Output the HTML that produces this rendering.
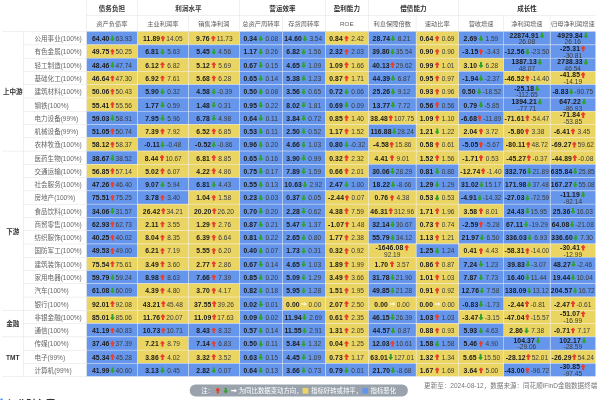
<!DOCTYPE html>
<html lang="zh-CN"><head><meta charset="utf-8"><title>行业财务指标</title>
<style>
html,body{margin:0;padding:0;background:#fff;}
body{width:600px;height:400px;overflow:hidden;position:relative;font-family:"Liberation Sans","Noto Sans CJK SC",sans-serif;}
#wrap{position:absolute;left:0;top:0;width:1356px;height:905px;transform:scale(0.4424);transform-origin:0 0;font-size:14.8px;color:#333;}
table.t{position:absolute;left:4.5px;top:0;border-collapse:collapse;table-layout:fixed;border-spacing:0;}
.t th,.t td{padding:0;margin:0;text-align:center;vertical-align:middle;white-space:nowrap;overflow:visible;box-sizing:border-box;}
.t thead th{border:1px solid #dcdcdc;border-top:none;}
.t th.corner{border-left:none;border-top:none;}
.t tr.h1 th{height:35px;font-weight:bold;color:#333;}
.t tr.h2 th{height:36px;font-weight:normal;color:#5c5c5c;font-size:14.1px;}
.t tbody td{height:30px;border:1px solid #f0f0f0;line-height:14px;}
.t td.g{padding-top:3px;font-weight:bold;color:#333;border-left:none;border-color:#dcdcdc;}
.t td.n{text-align:left;padding-left:24px;padding-top:4px;color:#666;border-color:#dcdcdc;}
.t td.bl{background:#6596ec;}
.t td.yl{background:#ebd562;}
.t td b{display:inline-block;min-width:35px;text-align:center;font-weight:bold;color:#1a1a1a;}
.t td i{display:inline-block;min-width:35px;text-align:center;font-style:normal;color:#3a3a3a;}
.ar{display:inline-block;width:10.5px;height:14px;vertical-align:-2px;margin:0 2.2px 0 1px;}
.ar.rt{width:14px;height:10px;vertical-align:0;margin:0 0.5px;}
.t td.w b,.t td.w i{min-width:0;}
.foot{position:absolute;left:0;top:866px;width:100%;height:30px;}
.pill{position:absolute;left:428.5px;top:3px;height:26.5px;line-height:28.5px;width:493px;border-radius:13px;background:#9aa3ad;color:#fff;text-align:center;white-space:nowrap;}
.pill{font-size:14.45px;}
.pill .ar{margin:0 3.5px;top:0;position:relative;}
.sq{display:inline-block;width:13px;height:13px;vertical-align:-2px;margin-right:6px;}
.sy{background:#edd55f;}.sb{background:#6495ed;}
.src{position:absolute;right:6px;top:-7.5px;line-height:26px;color:#777;white-space:nowrap;}
.next{position:absolute;left:1px;top:899.9px;font-size:22px;font-weight:bold;color:#333;line-height:30px;white-space:nowrap;}
.next .bar{display:inline-block;width:4.5px;height:24px;background:#3b8cff;vertical-align:-3px;margin-right:10px;}
.t td b,.t td i{position:relative;top:1.5px;}
.t td .ar{position:relative;top:0.8px;}
.t td.w .l1,.t td.w .l2{height:14px;line-height:14px;white-space:nowrap;}
.t td.w .l1{position:relative;top:0.5px;}
.t td.w .l2{position:relative;top:1.8px;}
.t td.w b,.t td.w i{top:0;}
.t td.w .ar{top:0.3px;margin:0 0 0 2px;}
.t td b{letter-spacing:0.3px;font-size:15.3px;}
.t thead th:last-child{border-right:none;}
.t tbody td:last-child{border-right:none;}

</style></head><body>
<div id="wrap">
<table class="t"><colgroup><col style="width:49px"><col style="width:142px"><col style="width:115px"><col style="width:115px"><col style="width:116px"><col style="width:97px"><col style="width:97px"><col style="width:97px"><col style="width:108px"><col style="width:96px"><col style="width:102px"><col style="width:105px"><col style="width:102px"></colgroup>
<thead><tr class="h1"><th colspan="2" rowspan="2" class="corner"></th><th>债务负担</th><th colspan="2">利润水平</th><th colspan="2">营运效率</th><th>盈利能力</th><th colspan="2">偿债能力</th><th colspan="3">成长性</th></tr>
<tr class="h2"><th>资产负债率</th><th>主业利润率</th><th>销售净利润</th><th>总资产周转率</th><th>存货周转率</th><th>ROE</th><th>利息保障倍数</th><th>速动比率</th><th>营收增速</th><th>净利润增速</th><th>归母净利润增速</th></tr></thead><tbody>
<tr class="gs"><td class="g" rowspan="9">上中游</td><td class="n">公用事业(100%)</td><td class="bl"><b>64.40</b><svg class="ar" viewBox="0 0 10.5 14"><path d="M5.25 14 C6.3 13 9 10.4 10.2 8.6 Q10.8 7 9.4 7 L7.55 7 L7.55 0.9 Q7.55 0 6.65 0 L3.85 0 Q2.95 0 2.95 0.9 L2.95 7 L1.1 7 Q-0.3 7 0.3 8.6 C1.5 10.4 4.2 13 5.25 14 Z" fill="#2fa32f"/></svg><i>63.93</i></td><td class="yl"><b>11.89</b><svg class="ar" viewBox="0 0 10.5 14"><path d="M5.25 0 C6.3 1 9 3.6 10.2 5.4 Q10.8 7 9.4 7 L7.55 7 L7.55 13.1 Q7.55 14 6.65 14 L3.85 14 Q2.95 14 2.95 13.1 L2.95 7 L1.1 7 Q-0.3 7 0.3 5.4 C1.5 3.6 4.2 1 5.25 0 Z" fill="#e8402c"/></svg><i>14.05</i></td><td class="yl"><b>9.76</b><svg class="ar" viewBox="0 0 10.5 14"><path d="M5.25 0 C6.3 1 9 3.6 10.2 5.4 Q10.8 7 9.4 7 L7.55 7 L7.55 13.1 Q7.55 14 6.65 14 L3.85 14 Q2.95 14 2.95 13.1 L2.95 7 L1.1 7 Q-0.3 7 0.3 5.4 C1.5 3.6 4.2 1 5.25 0 Z" fill="#e8402c"/></svg><i>11.73</i></td><td class="bl"><b>0.34</b><svg class="ar" viewBox="0 0 10.5 14"><path d="M5.25 14 C6.3 13 9 10.4 10.2 8.6 Q10.8 7 9.4 7 L7.55 7 L7.55 0.9 Q7.55 0 6.65 0 L3.85 0 Q2.95 0 2.95 0.9 L2.95 7 L1.1 7 Q-0.3 7 0.3 8.6 C1.5 10.4 4.2 13 5.25 14 Z" fill="#2fa32f"/></svg><i>0.08</i></td><td class="bl"><b>14.60</b><svg class="ar" viewBox="0 0 10.5 14"><path d="M5.25 14 C6.3 13 9 10.4 10.2 8.6 Q10.8 7 9.4 7 L7.55 7 L7.55 0.9 Q7.55 0 6.65 0 L3.85 0 Q2.95 0 2.95 0.9 L2.95 7 L1.1 7 Q-0.3 7 0.3 8.6 C1.5 10.4 4.2 13 5.25 14 Z" fill="#2fa32f"/></svg><i>3.54</i></td><td class="yl"><b>0.84</b><svg class="ar" viewBox="0 0 10.5 14"><path d="M5.25 0 C6.3 1 9 3.6 10.2 5.4 Q10.8 7 9.4 7 L7.55 7 L7.55 13.1 Q7.55 14 6.65 14 L3.85 14 Q2.95 14 2.95 13.1 L2.95 7 L1.1 7 Q-0.3 7 0.3 5.4 C1.5 3.6 4.2 1 5.25 0 Z" fill="#e8402c"/></svg><i>2.42</i></td><td class="bl"><b>28.74</b><svg class="ar" viewBox="0 0 10.5 14"><path d="M5.25 14 C6.3 13 9 10.4 10.2 8.6 Q10.8 7 9.4 7 L7.55 7 L7.55 0.9 Q7.55 0 6.65 0 L3.85 0 Q2.95 0 2.95 0.9 L2.95 7 L1.1 7 Q-0.3 7 0.3 8.6 C1.5 10.4 4.2 13 5.25 14 Z" fill="#2fa32f"/></svg><i>8.21</i></td><td class="yl"><b>0.64</b><svg class="ar" viewBox="0 0 10.5 14"><path d="M5.25 0 C6.3 1 9 3.6 10.2 5.4 Q10.8 7 9.4 7 L7.55 7 L7.55 13.1 Q7.55 14 6.65 14 L3.85 14 Q2.95 14 2.95 13.1 L2.95 7 L1.1 7 Q-0.3 7 0.3 5.4 C1.5 3.6 4.2 1 5.25 0 Z" fill="#e8402c"/></svg><i>0.69</i></td><td class="bl"><b>2.69</b><svg class="ar" viewBox="0 0 10.5 14"><path d="M5.25 14 C6.3 13 9 10.4 10.2 8.6 Q10.8 7 9.4 7 L7.55 7 L7.55 0.9 Q7.55 0 6.65 0 L3.85 0 Q2.95 0 2.95 0.9 L2.95 7 L1.1 7 Q-0.3 7 0.3 8.6 C1.5 10.4 4.2 13 5.25 14 Z" fill="#2fa32f"/></svg><i>1.59</i></td><td class="bl w"><div class="l1"><b>22874.91</b><svg class="ar" viewBox="0 0 10.5 14"><path d="M5.25 14 C6.3 13 9 10.4 10.2 8.6 Q10.8 7 9.4 7 L7.55 7 L7.55 0.9 Q7.55 0 6.65 0 L3.85 0 Q2.95 0 2.95 0.9 L2.95 7 L1.1 7 Q-0.3 7 0.3 8.6 C1.5 10.4 4.2 13 5.25 14 Z" fill="#2fa32f"/></svg></div><div class="l2"><i>26.08</i></div></td><td class="bl w"><div class="l1"><b>4929.84</b><svg class="ar" viewBox="0 0 10.5 14"><path d="M5.25 14 C6.3 13 9 10.4 10.2 8.6 Q10.8 7 9.4 7 L7.55 7 L7.55 0.9 Q7.55 0 6.65 0 L3.85 0 Q2.95 0 2.95 0.9 L2.95 7 L1.1 7 Q-0.3 7 0.3 8.6 C1.5 10.4 4.2 13 5.25 14 Z" fill="#2fa32f"/></svg></div><div class="l2"><i>26.16</i></div></td></tr>
<tr><td class="n">有色金属(100%)</td><td class="yl"><b>49.75</b><svg class="ar" viewBox="0 0 10.5 14"><path d="M5.25 0 C6.3 1 9 3.6 10.2 5.4 Q10.8 7 9.4 7 L7.55 7 L7.55 13.1 Q7.55 14 6.65 14 L3.85 14 Q2.95 14 2.95 13.1 L2.95 7 L1.1 7 Q-0.3 7 0.3 5.4 C1.5 3.6 4.2 1 5.25 0 Z" fill="#e8402c"/></svg><i>50.25</i></td><td class="bl"><b>6.81</b><svg class="ar" viewBox="0 0 10.5 14"><path d="M5.25 14 C6.3 13 9 10.4 10.2 8.6 Q10.8 7 9.4 7 L7.55 7 L7.55 0.9 Q7.55 0 6.65 0 L3.85 0 Q2.95 0 2.95 0.9 L2.95 7 L1.1 7 Q-0.3 7 0.3 8.6 C1.5 10.4 4.2 13 5.25 14 Z" fill="#2fa32f"/></svg><i>5.63</i></td><td class="bl"><b>5.45</b><svg class="ar" viewBox="0 0 10.5 14"><path d="M5.25 14 C6.3 13 9 10.4 10.2 8.6 Q10.8 7 9.4 7 L7.55 7 L7.55 0.9 Q7.55 0 6.65 0 L3.85 0 Q2.95 0 2.95 0.9 L2.95 7 L1.1 7 Q-0.3 7 0.3 8.6 C1.5 10.4 4.2 13 5.25 14 Z" fill="#2fa32f"/></svg><i>4.56</i></td><td class="bl"><b>1.17</b><svg class="ar" viewBox="0 0 10.5 14"><path d="M5.25 14 C6.3 13 9 10.4 10.2 8.6 Q10.8 7 9.4 7 L7.55 7 L7.55 0.9 Q7.55 0 6.65 0 L3.85 0 Q2.95 0 2.95 0.9 L2.95 7 L1.1 7 Q-0.3 7 0.3 8.6 C1.5 10.4 4.2 13 5.25 14 Z" fill="#2fa32f"/></svg><i>0.26</i></td><td class="bl"><b>6.82</b><svg class="ar" viewBox="0 0 10.5 14"><path d="M5.25 14 C6.3 13 9 10.4 10.2 8.6 Q10.8 7 9.4 7 L7.55 7 L7.55 0.9 Q7.55 0 6.65 0 L3.85 0 Q2.95 0 2.95 0.9 L2.95 7 L1.1 7 Q-0.3 7 0.3 8.6 C1.5 10.4 4.2 13 5.25 14 Z" fill="#2fa32f"/></svg><i>1.56</i></td><td class="bl"><b>2.32</b><svg class="ar" viewBox="0 0 10.5 14"><path d="M5.25 0 C6.3 1 9 3.6 10.2 5.4 Q10.8 7 9.4 7 L7.55 7 L7.55 13.1 Q7.55 14 6.65 14 L3.85 14 Q2.95 14 2.95 13.1 L2.95 7 L1.1 7 Q-0.3 7 0.3 5.4 C1.5 3.6 4.2 1 5.25 0 Z" fill="#e8402c"/></svg><i>2.03</i></td><td class="bl"><b>39.80</b><svg class="ar" viewBox="0 0 10.5 14"><path d="M5.25 14 C6.3 13 9 10.4 10.2 8.6 Q10.8 7 9.4 7 L7.55 7 L7.55 0.9 Q7.55 0 6.65 0 L3.85 0 Q2.95 0 2.95 0.9 L2.95 7 L1.1 7 Q-0.3 7 0.3 8.6 C1.5 10.4 4.2 13 5.25 14 Z" fill="#2fa32f"/></svg><i>35.54</i></td><td class="yl"><b>0.90</b><svg class="ar" viewBox="0 0 10.5 14"><path d="M5.25 0 C6.3 1 9 3.6 10.2 5.4 Q10.8 7 9.4 7 L7.55 7 L7.55 13.1 Q7.55 14 6.65 14 L3.85 14 Q2.95 14 2.95 13.1 L2.95 7 L1.1 7 Q-0.3 7 0.3 5.4 C1.5 3.6 4.2 1 5.25 0 Z" fill="#e8402c"/></svg><i>0.90</i></td><td class="bl"><b>-3.15</b><svg class="ar" viewBox="0 0 10.5 14"><path d="M5.25 0 C6.3 1 9 3.6 10.2 5.4 Q10.8 7 9.4 7 L7.55 7 L7.55 13.1 Q7.55 14 6.65 14 L3.85 14 Q2.95 14 2.95 13.1 L2.95 7 L1.1 7 Q-0.3 7 0.3 5.4 C1.5 3.6 4.2 1 5.25 0 Z" fill="#e8402c"/></svg><i>-3.43</i></td><td class="bl"><b>-12.56</b><svg class="ar" viewBox="0 0 10.5 14"><path d="M5.25 14 C6.3 13 9 10.4 10.2 8.6 Q10.8 7 9.4 7 L7.55 7 L7.55 0.9 Q7.55 0 6.65 0 L3.85 0 Q2.95 0 2.95 0.9 L2.95 7 L1.1 7 Q-0.3 7 0.3 8.6 C1.5 10.4 4.2 13 5.25 14 Z" fill="#2fa32f"/></svg><i>-23.50</i></td><td class="bl w"><div class="l1"><b>-25.31</b><svg class="ar" viewBox="0 0 10.5 14"><path d="M5.25 0 C6.3 1 9 3.6 10.2 5.4 Q10.8 7 9.4 7 L7.55 7 L7.55 13.1 Q7.55 14 6.65 14 L3.85 14 Q2.95 14 2.95 13.1 L2.95 7 L1.1 7 Q-0.3 7 0.3 5.4 C1.5 3.6 4.2 1 5.25 0 Z" fill="#e8402c"/></svg></div><div class="l2"><i>-30.81</i></div></td></tr>
<tr><td class="n">轻工制造(100%)</td><td class="bl"><b>48.46</b><svg class="ar" viewBox="0 0 10.5 14"><path d="M5.25 14 C6.3 13 9 10.4 10.2 8.6 Q10.8 7 9.4 7 L7.55 7 L7.55 0.9 Q7.55 0 6.65 0 L3.85 0 Q2.95 0 2.95 0.9 L2.95 7 L1.1 7 Q-0.3 7 0.3 8.6 C1.5 10.4 4.2 13 5.25 14 Z" fill="#2fa32f"/></svg><i>47.74</i></td><td class="yl"><b>6.12</b><svg class="ar" viewBox="0 0 10.5 14"><path d="M5.25 0 C6.3 1 9 3.6 10.2 5.4 Q10.8 7 9.4 7 L7.55 7 L7.55 13.1 Q7.55 14 6.65 14 L3.85 14 Q2.95 14 2.95 13.1 L2.95 7 L1.1 7 Q-0.3 7 0.3 5.4 C1.5 3.6 4.2 1 5.25 0 Z" fill="#e8402c"/></svg><i>6.82</i></td><td class="yl"><b>5.12</b><svg class="ar" viewBox="0 0 10.5 14"><path d="M5.25 0 C6.3 1 9 3.6 10.2 5.4 Q10.8 7 9.4 7 L7.55 7 L7.55 13.1 Q7.55 14 6.65 14 L3.85 14 Q2.95 14 2.95 13.1 L2.95 7 L1.1 7 Q-0.3 7 0.3 5.4 C1.5 3.6 4.2 1 5.25 0 Z" fill="#e8402c"/></svg><i>5.69</i></td><td class="bl"><b>0.67</b><svg class="ar" viewBox="0 0 10.5 14"><path d="M5.25 14 C6.3 13 9 10.4 10.2 8.6 Q10.8 7 9.4 7 L7.55 7 L7.55 0.9 Q7.55 0 6.65 0 L3.85 0 Q2.95 0 2.95 0.9 L2.95 7 L1.1 7 Q-0.3 7 0.3 8.6 C1.5 10.4 4.2 13 5.25 14 Z" fill="#2fa32f"/></svg><i>0.15</i></td><td class="bl"><b>4.65</b><svg class="ar" viewBox="0 0 10.5 14"><path d="M5.25 14 C6.3 13 9 10.4 10.2 8.6 Q10.8 7 9.4 7 L7.55 7 L7.55 0.9 Q7.55 0 6.65 0 L3.85 0 Q2.95 0 2.95 0.9 L2.95 7 L1.1 7 Q-0.3 7 0.3 8.6 C1.5 10.4 4.2 13 5.25 14 Z" fill="#2fa32f"/></svg><i>1.09</i></td><td class="yl"><b>1.09</b><svg class="ar" viewBox="0 0 10.5 14"><path d="M5.25 0 C6.3 1 9 3.6 10.2 5.4 Q10.8 7 9.4 7 L7.55 7 L7.55 13.1 Q7.55 14 6.65 14 L3.85 14 Q2.95 14 2.95 13.1 L2.95 7 L1.1 7 Q-0.3 7 0.3 5.4 C1.5 3.6 4.2 1 5.25 0 Z" fill="#e8402c"/></svg><i>1.66</i></td><td class="bl"><b>40.13</b><svg class="ar" viewBox="0 0 10.5 14"><path d="M5.25 0 C6.3 1 9 3.6 10.2 5.4 Q10.8 7 9.4 7 L7.55 7 L7.55 13.1 Q7.55 14 6.65 14 L3.85 14 Q2.95 14 2.95 13.1 L2.95 7 L1.1 7 Q-0.3 7 0.3 5.4 C1.5 3.6 4.2 1 5.25 0 Z" fill="#e8402c"/></svg><i>29.62</i></td><td class="yl"><b>0.99</b><svg class="ar" viewBox="0 0 10.5 14"><path d="M5.25 0 C6.3 1 9 3.6 10.2 5.4 Q10.8 7 9.4 7 L7.55 7 L7.55 13.1 Q7.55 14 6.65 14 L3.85 14 Q2.95 14 2.95 13.1 L2.95 7 L1.1 7 Q-0.3 7 0.3 5.4 C1.5 3.6 4.2 1 5.25 0 Z" fill="#e8402c"/></svg><i>1.01</i></td><td class="yl"><b>3.10</b><svg class="ar" viewBox="0 0 10.5 14"><path d="M5.25 14 C6.3 13 9 10.4 10.2 8.6 Q10.8 7 9.4 7 L7.55 7 L7.55 0.9 Q7.55 0 6.65 0 L3.85 0 Q2.95 0 2.95 0.9 L2.95 7 L1.1 7 Q-0.3 7 0.3 8.6 C1.5 10.4 4.2 13 5.25 14 Z" fill="#2fa32f"/></svg><i>6.28</i></td><td class="bl w"><div class="l1"><b>1387.13</b><svg class="ar" viewBox="0 0 10.5 14"><path d="M5.25 14 C6.3 13 9 10.4 10.2 8.6 Q10.8 7 9.4 7 L7.55 7 L7.55 0.9 Q7.55 0 6.65 0 L3.85 0 Q2.95 0 2.95 0.9 L2.95 7 L1.1 7 Q-0.3 7 0.3 8.6 C1.5 10.4 4.2 13 5.25 14 Z" fill="#2fa32f"/></svg></div><div class="l2"><i>48.07</i></div></td><td class="bl w"><div class="l1"><b>2738.33</b><svg class="ar" viewBox="0 0 10.5 14"><path d="M5.25 14 C6.3 13 9 10.4 10.2 8.6 Q10.8 7 9.4 7 L7.55 7 L7.55 0.9 Q7.55 0 6.65 0 L3.85 0 Q2.95 0 2.95 0.9 L2.95 7 L1.1 7 Q-0.3 7 0.3 8.6 C1.5 10.4 4.2 13 5.25 14 Z" fill="#2fa32f"/></svg></div><div class="l2"><i>46.54</i></div></td></tr>
<tr><td class="n">基础化工(100%)</td><td class="yl"><b>46.64</b><svg class="ar" viewBox="0 0 10.5 14"><path d="M5.25 0 C6.3 1 9 3.6 10.2 5.4 Q10.8 7 9.4 7 L7.55 7 L7.55 13.1 Q7.55 14 6.65 14 L3.85 14 Q2.95 14 2.95 13.1 L2.95 7 L1.1 7 Q-0.3 7 0.3 5.4 C1.5 3.6 4.2 1 5.25 0 Z" fill="#e8402c"/></svg><i>47.30</i></td><td class="yl"><b>6.92</b><svg class="ar" viewBox="0 0 10.5 14"><path d="M5.25 0 C6.3 1 9 3.6 10.2 5.4 Q10.8 7 9.4 7 L7.55 7 L7.55 13.1 Q7.55 14 6.65 14 L3.85 14 Q2.95 14 2.95 13.1 L2.95 7 L1.1 7 Q-0.3 7 0.3 5.4 C1.5 3.6 4.2 1 5.25 0 Z" fill="#e8402c"/></svg><i>7.61</i></td><td class="yl"><b>5.68</b><svg class="ar" viewBox="0 0 10.5 14"><path d="M5.25 0 C6.3 1 9 3.6 10.2 5.4 Q10.8 7 9.4 7 L7.55 7 L7.55 13.1 Q7.55 14 6.65 14 L3.85 14 Q2.95 14 2.95 13.1 L2.95 7 L1.1 7 Q-0.3 7 0.3 5.4 C1.5 3.6 4.2 1 5.25 0 Z" fill="#e8402c"/></svg><i>6.28</i></td><td class="bl"><b>0.65</b><svg class="ar" viewBox="0 0 10.5 14"><path d="M5.25 14 C6.3 13 9 10.4 10.2 8.6 Q10.8 7 9.4 7 L7.55 7 L7.55 0.9 Q7.55 0 6.65 0 L3.85 0 Q2.95 0 2.95 0.9 L2.95 7 L1.1 7 Q-0.3 7 0.3 8.6 C1.5 10.4 4.2 13 5.25 14 Z" fill="#2fa32f"/></svg><i>0.14</i></td><td class="bl"><b>5.38</b><svg class="ar" viewBox="0 0 10.5 14"><path d="M5.25 14 C6.3 13 9 10.4 10.2 8.6 Q10.8 7 9.4 7 L7.55 7 L7.55 0.9 Q7.55 0 6.65 0 L3.85 0 Q2.95 0 2.95 0.9 L2.95 7 L1.1 7 Q-0.3 7 0.3 8.6 C1.5 10.4 4.2 13 5.25 14 Z" fill="#2fa32f"/></svg><i>1.23</i></td><td class="yl"><b>0.87</b><svg class="ar" viewBox="0 0 10.5 14"><path d="M5.25 0 C6.3 1 9 3.6 10.2 5.4 Q10.8 7 9.4 7 L7.55 7 L7.55 13.1 Q7.55 14 6.65 14 L3.85 14 Q2.95 14 2.95 13.1 L2.95 7 L1.1 7 Q-0.3 7 0.3 5.4 C1.5 3.6 4.2 1 5.25 0 Z" fill="#e8402c"/></svg><i>1.71</i></td><td class="bl"><b>44.39</b><svg class="ar" viewBox="0 0 10.5 14"><path d="M5.25 14 C6.3 13 9 10.4 10.2 8.6 Q10.8 7 9.4 7 L7.55 7 L7.55 0.9 Q7.55 0 6.65 0 L3.85 0 Q2.95 0 2.95 0.9 L2.95 7 L1.1 7 Q-0.3 7 0.3 8.6 C1.5 10.4 4.2 13 5.25 14 Z" fill="#2fa32f"/></svg><i>6.87</i></td><td class="yl"><b>0.95</b><svg class="ar" viewBox="0 0 10.5 14"><path d="M5.25 0 C6.3 1 9 3.6 10.2 5.4 Q10.8 7 9.4 7 L7.55 7 L7.55 13.1 Q7.55 14 6.65 14 L3.85 14 Q2.95 14 2.95 13.1 L2.95 7 L1.1 7 Q-0.3 7 0.3 5.4 C1.5 3.6 4.2 1 5.25 0 Z" fill="#e8402c"/></svg><i>0.97</i></td><td class="bl"><b>-1.94</b><svg class="ar" viewBox="0 0 10.5 14"><path d="M5.25 14 C6.3 13 9 10.4 10.2 8.6 Q10.8 7 9.4 7 L7.55 7 L7.55 0.9 Q7.55 0 6.65 0 L3.85 0 Q2.95 0 2.95 0.9 L2.95 7 L1.1 7 Q-0.3 7 0.3 8.6 C1.5 10.4 4.2 13 5.25 14 Z" fill="#2fa32f"/></svg><i>-2.37</i></td><td class="yl"><b>-46.52</b><svg class="ar" viewBox="0 0 10.5 14"><path d="M5.25 0 C6.3 1 9 3.6 10.2 5.4 Q10.8 7 9.4 7 L7.55 7 L7.55 13.1 Q7.55 14 6.65 14 L3.85 14 Q2.95 14 2.95 13.1 L2.95 7 L1.1 7 Q-0.3 7 0.3 5.4 C1.5 3.6 4.2 1 5.25 0 Z" fill="#e8402c"/></svg><i>-14.40</i></td><td class="yl w"><div class="l1"><b>-41.85</b><svg class="ar" viewBox="0 0 10.5 14"><path d="M5.25 0 C6.3 1 9 3.6 10.2 5.4 Q10.8 7 9.4 7 L7.55 7 L7.55 13.1 Q7.55 14 6.65 14 L3.85 14 Q2.95 14 2.95 13.1 L2.95 7 L1.1 7 Q-0.3 7 0.3 5.4 C1.5 3.6 4.2 1 5.25 0 Z" fill="#e8402c"/></svg></div><div class="l2"><i>-14.19</i></div></td></tr>
<tr><td class="n">建筑材料(100%)</td><td class="yl"><b>50.06</b><svg class="ar" viewBox="0 0 10.5 14"><path d="M5.25 0 C6.3 1 9 3.6 10.2 5.4 Q10.8 7 9.4 7 L7.55 7 L7.55 13.1 Q7.55 14 6.65 14 L3.85 14 Q2.95 14 2.95 13.1 L2.95 7 L1.1 7 Q-0.3 7 0.3 5.4 C1.5 3.6 4.2 1 5.25 0 Z" fill="#e8402c"/></svg><i>50.43</i></td><td class="bl"><b>5.90</b><svg class="ar" viewBox="0 0 10.5 14"><path d="M5.25 14 C6.3 13 9 10.4 10.2 8.6 Q10.8 7 9.4 7 L7.55 7 L7.55 0.9 Q7.55 0 6.65 0 L3.85 0 Q2.95 0 2.95 0.9 L2.95 7 L1.1 7 Q-0.3 7 0.3 8.6 C1.5 10.4 4.2 13 5.25 14 Z" fill="#2fa32f"/></svg><i>0.32</i></td><td class="bl"><b>4.58</b><svg class="ar" viewBox="0 0 10.5 14"><path d="M5.25 14 C6.3 13 9 10.4 10.2 8.6 Q10.8 7 9.4 7 L7.55 7 L7.55 0.9 Q7.55 0 6.65 0 L3.85 0 Q2.95 0 2.95 0.9 L2.95 7 L1.1 7 Q-0.3 7 0.3 8.6 C1.5 10.4 4.2 13 5.25 14 Z" fill="#2fa32f"/></svg><i>-0.39</i></td><td class="bl"><b>0.50</b><svg class="ar" viewBox="0 0 10.5 14"><path d="M5.25 14 C6.3 13 9 10.4 10.2 8.6 Q10.8 7 9.4 7 L7.55 7 L7.55 0.9 Q7.55 0 6.65 0 L3.85 0 Q2.95 0 2.95 0.9 L2.95 7 L1.1 7 Q-0.3 7 0.3 8.6 C1.5 10.4 4.2 13 5.25 14 Z" fill="#2fa32f"/></svg><i>0.08</i></td><td class="bl"><b>3.56</b><svg class="ar" viewBox="0 0 10.5 14"><path d="M5.25 14 C6.3 13 9 10.4 10.2 8.6 Q10.8 7 9.4 7 L7.55 7 L7.55 0.9 Q7.55 0 6.65 0 L3.85 0 Q2.95 0 2.95 0.9 L2.95 7 L1.1 7 Q-0.3 7 0.3 8.6 C1.5 10.4 4.2 13 5.25 14 Z" fill="#2fa32f"/></svg><i>0.65</i></td><td class="bl"><b>0.72</b><svg class="ar" viewBox="0 0 10.5 14"><path d="M5.25 14 C6.3 13 9 10.4 10.2 8.6 Q10.8 7 9.4 7 L7.55 7 L7.55 0.9 Q7.55 0 6.65 0 L3.85 0 Q2.95 0 2.95 0.9 L2.95 7 L1.1 7 Q-0.3 7 0.3 8.6 C1.5 10.4 4.2 13 5.25 14 Z" fill="#2fa32f"/></svg><i>0.06</i></td><td class="bl"><b>25.26</b><svg class="ar" viewBox="0 0 10.5 14"><path d="M5.25 14 C6.3 13 9 10.4 10.2 8.6 Q10.8 7 9.4 7 L7.55 7 L7.55 0.9 Q7.55 0 6.65 0 L3.85 0 Q2.95 0 2.95 0.9 L2.95 7 L1.1 7 Q-0.3 7 0.3 8.6 C1.5 10.4 4.2 13 5.25 14 Z" fill="#2fa32f"/></svg><i>9.12</i></td><td class="yl"><b>0.93</b><svg class="ar" viewBox="0 0 10.5 14"><path d="M5.25 0 C6.3 1 9 3.6 10.2 5.4 Q10.8 7 9.4 7 L7.55 7 L7.55 13.1 Q7.55 14 6.65 14 L3.85 14 Q2.95 14 2.95 13.1 L2.95 7 L1.1 7 Q-0.3 7 0.3 5.4 C1.5 3.6 4.2 1 5.25 0 Z" fill="#e8402c"/></svg><i>0.96</i></td><td class="bl"><b>0.50</b><svg class="ar" viewBox="0 0 10.5 14"><path d="M5.25 14 C6.3 13 9 10.4 10.2 8.6 Q10.8 7 9.4 7 L7.55 7 L7.55 0.9 Q7.55 0 6.65 0 L3.85 0 Q2.95 0 2.95 0.9 L2.95 7 L1.1 7 Q-0.3 7 0.3 8.6 C1.5 10.4 4.2 13 5.25 14 Z" fill="#2fa32f"/></svg><i>-18.52</i></td><td class="bl w"><div class="l1"><b>-25.18</b><svg class="ar" viewBox="0 0 10.5 14"><path d="M5.25 14 C6.3 13 9 10.4 10.2 8.6 Q10.8 7 9.4 7 L7.55 7 L7.55 0.9 Q7.55 0 6.65 0 L3.85 0 Q2.95 0 2.95 0.9 L2.95 7 L1.1 7 Q-0.3 7 0.3 8.6 C1.5 10.4 4.2 13 5.25 14 Z" fill="#2fa32f"/></svg></div><div class="l2"><i>-112.65</i></div></td><td class="bl"><b>-8.83</b><svg class="ar" viewBox="0 0 10.5 14"><path d="M5.25 14 C6.3 13 9 10.4 10.2 8.6 Q10.8 7 9.4 7 L7.55 7 L7.55 0.9 Q7.55 0 6.65 0 L3.85 0 Q2.95 0 2.95 0.9 L2.95 7 L1.1 7 Q-0.3 7 0.3 8.6 C1.5 10.4 4.2 13 5.25 14 Z" fill="#2fa32f"/></svg><i>-90.75</i></td></tr>
<tr><td class="n">钢铁(100%)</td><td class="yl"><b>55.41</b><svg class="ar" viewBox="0 0 10.5 14"><path d="M5.25 0 C6.3 1 9 3.6 10.2 5.4 Q10.8 7 9.4 7 L7.55 7 L7.55 13.1 Q7.55 14 6.65 14 L3.85 14 Q2.95 14 2.95 13.1 L2.95 7 L1.1 7 Q-0.3 7 0.3 5.4 C1.5 3.6 4.2 1 5.25 0 Z" fill="#e8402c"/></svg><i>55.56</i></td><td class="bl"><b>1.77</b><svg class="ar" viewBox="0 0 10.5 14"><path d="M5.25 14 C6.3 13 9 10.4 10.2 8.6 Q10.8 7 9.4 7 L7.55 7 L7.55 0.9 Q7.55 0 6.65 0 L3.85 0 Q2.95 0 2.95 0.9 L2.95 7 L1.1 7 Q-0.3 7 0.3 8.6 C1.5 10.4 4.2 13 5.25 14 Z" fill="#2fa32f"/></svg><i>0.59</i></td><td class="bl"><b>1.48</b><svg class="ar" viewBox="0 0 10.5 14"><path d="M5.25 14 C6.3 13 9 10.4 10.2 8.6 Q10.8 7 9.4 7 L7.55 7 L7.55 0.9 Q7.55 0 6.65 0 L3.85 0 Q2.95 0 2.95 0.9 L2.95 7 L1.1 7 Q-0.3 7 0.3 8.6 C1.5 10.4 4.2 13 5.25 14 Z" fill="#2fa32f"/></svg><i>0.31</i></td><td class="bl"><b>0.95</b><svg class="ar" viewBox="0 0 10.5 14"><path d="M5.25 14 C6.3 13 9 10.4 10.2 8.6 Q10.8 7 9.4 7 L7.55 7 L7.55 0.9 Q7.55 0 6.65 0 L3.85 0 Q2.95 0 2.95 0.9 L2.95 7 L1.1 7 Q-0.3 7 0.3 8.6 C1.5 10.4 4.2 13 5.25 14 Z" fill="#2fa32f"/></svg><i>0.22</i></td><td class="bl"><b>8.02</b><svg class="ar" viewBox="0 0 10.5 14"><path d="M5.25 14 C6.3 13 9 10.4 10.2 8.6 Q10.8 7 9.4 7 L7.55 7 L7.55 0.9 Q7.55 0 6.65 0 L3.85 0 Q2.95 0 2.95 0.9 L2.95 7 L1.1 7 Q-0.3 7 0.3 8.6 C1.5 10.4 4.2 13 5.25 14 Z" fill="#2fa32f"/></svg><i>1.81</i></td><td class="bl"><b>0.69</b><svg class="ar" viewBox="0 0 10.5 14"><path d="M5.25 14 C6.3 13 9 10.4 10.2 8.6 Q10.8 7 9.4 7 L7.55 7 L7.55 0.9 Q7.55 0 6.65 0 L3.85 0 Q2.95 0 2.95 0.9 L2.95 7 L1.1 7 Q-0.3 7 0.3 8.6 C1.5 10.4 4.2 13 5.25 14 Z" fill="#2fa32f"/></svg><i>0.09</i></td><td class="bl"><b>13.77</b><svg class="ar" viewBox="0 0 10.5 14"><path d="M5.25 14 C6.3 13 9 10.4 10.2 8.6 Q10.8 7 9.4 7 L7.55 7 L7.55 0.9 Q7.55 0 6.65 0 L3.85 0 Q2.95 0 2.95 0.9 L2.95 7 L1.1 7 Q-0.3 7 0.3 8.6 C1.5 10.4 4.2 13 5.25 14 Z" fill="#2fa32f"/></svg><i>7.72</i></td><td class="bl"><b>0.56</b><svg class="ar" viewBox="0 0 10.5 14"><path d="M5.25 0 C6.3 1 9 3.6 10.2 5.4 Q10.8 7 9.4 7 L7.55 7 L7.55 13.1 Q7.55 14 6.65 14 L3.85 14 Q2.95 14 2.95 13.1 L2.95 7 L1.1 7 Q-0.3 7 0.3 5.4 C1.5 3.6 4.2 1 5.25 0 Z" fill="#e8402c"/></svg><i>0.56</i></td><td class="bl"><b>0.79</b><svg class="ar" viewBox="0 0 10.5 14"><path d="M5.25 14 C6.3 13 9 10.4 10.2 8.6 Q10.8 7 9.4 7 L7.55 7 L7.55 0.9 Q7.55 0 6.65 0 L3.85 0 Q2.95 0 2.95 0.9 L2.95 7 L1.1 7 Q-0.3 7 0.3 8.6 C1.5 10.4 4.2 13 5.25 14 Z" fill="#2fa32f"/></svg><i>-5.85</i></td><td class="bl w"><div class="l1"><b>1394.21</b><svg class="ar" viewBox="0 0 10.5 14"><path d="M5.25 14 C6.3 13 9 10.4 10.2 8.6 Q10.8 7 9.4 7 L7.55 7 L7.55 0.9 Q7.55 0 6.65 0 L3.85 0 Q2.95 0 2.95 0.9 L2.95 7 L1.1 7 Q-0.3 7 0.3 8.6 C1.5 10.4 4.2 13 5.25 14 Z" fill="#2fa32f"/></svg></div><div class="l2"><i>-77.71</i></div></td><td class="bl w"><div class="l1"><b>647.22</b><svg class="ar" viewBox="0 0 10.5 14"><path d="M5.25 14 C6.3 13 9 10.4 10.2 8.6 Q10.8 7 9.4 7 L7.55 7 L7.55 0.9 Q7.55 0 6.65 0 L3.85 0 Q2.95 0 2.95 0.9 L2.95 7 L1.1 7 Q-0.3 7 0.3 8.6 C1.5 10.4 4.2 13 5.25 14 Z" fill="#2fa32f"/></svg></div><div class="l2"><i>-86.93</i></div></td></tr>
<tr><td class="n">电力设备(99%)</td><td class="bl"><b>59.03</b><svg class="ar" viewBox="0 0 10.5 14"><path d="M5.25 14 C6.3 13 9 10.4 10.2 8.6 Q10.8 7 9.4 7 L7.55 7 L7.55 0.9 Q7.55 0 6.65 0 L3.85 0 Q2.95 0 2.95 0.9 L2.95 7 L1.1 7 Q-0.3 7 0.3 8.6 C1.5 10.4 4.2 13 5.25 14 Z" fill="#2fa32f"/></svg><i>58.91</i></td><td class="bl"><b>7.95</b><svg class="ar" viewBox="0 0 10.5 14"><path d="M5.25 14 C6.3 13 9 10.4 10.2 8.6 Q10.8 7 9.4 7 L7.55 7 L7.55 0.9 Q7.55 0 6.65 0 L3.85 0 Q2.95 0 2.95 0.9 L2.95 7 L1.1 7 Q-0.3 7 0.3 8.6 C1.5 10.4 4.2 13 5.25 14 Z" fill="#2fa32f"/></svg><i>5.96</i></td><td class="bl"><b>6.78</b><svg class="ar" viewBox="0 0 10.5 14"><path d="M5.25 14 C6.3 13 9 10.4 10.2 8.6 Q10.8 7 9.4 7 L7.55 7 L7.55 0.9 Q7.55 0 6.65 0 L3.85 0 Q2.95 0 2.95 0.9 L2.95 7 L1.1 7 Q-0.3 7 0.3 8.6 C1.5 10.4 4.2 13 5.25 14 Z" fill="#2fa32f"/></svg><i>4.98</i></td><td class="bl"><b>0.64</b><svg class="ar" viewBox="0 0 10.5 14"><path d="M5.25 14 C6.3 13 9 10.4 10.2 8.6 Q10.8 7 9.4 7 L7.55 7 L7.55 0.9 Q7.55 0 6.65 0 L3.85 0 Q2.95 0 2.95 0.9 L2.95 7 L1.1 7 Q-0.3 7 0.3 8.6 C1.5 10.4 4.2 13 5.25 14 Z" fill="#2fa32f"/></svg><i>0.11</i></td><td class="bl"><b>3.84</b><svg class="ar" viewBox="0 0 10.5 14"><path d="M5.25 14 C6.3 13 9 10.4 10.2 8.6 Q10.8 7 9.4 7 L7.55 7 L7.55 0.9 Q7.55 0 6.65 0 L3.85 0 Q2.95 0 2.95 0.9 L2.95 7 L1.1 7 Q-0.3 7 0.3 8.6 C1.5 10.4 4.2 13 5.25 14 Z" fill="#2fa32f"/></svg><i>0.72</i></td><td class="yl"><b>0.85</b><svg class="ar" viewBox="0 0 10.5 14"><path d="M5.25 0 C6.3 1 9 3.6 10.2 5.4 Q10.8 7 9.4 7 L7.55 7 L7.55 13.1 Q7.55 14 6.65 14 L3.85 14 Q2.95 14 2.95 13.1 L2.95 7 L1.1 7 Q-0.3 7 0.3 5.4 C1.5 3.6 4.2 1 5.25 0 Z" fill="#e8402c"/></svg><i>1.40</i></td><td class="yl"><b>38.48</b><svg class="ar" viewBox="0 0 10.5 14"><path d="M5.25 0 C6.3 1 9 3.6 10.2 5.4 Q10.8 7 9.4 7 L7.55 7 L7.55 13.1 Q7.55 14 6.65 14 L3.85 14 Q2.95 14 2.95 13.1 L2.95 7 L1.1 7 Q-0.3 7 0.3 5.4 C1.5 3.6 4.2 1 5.25 0 Z" fill="#e8402c"/></svg><i>107.75</i></td><td class="yl"><b>1.09</b><svg class="ar" viewBox="0 0 10.5 14"><path d="M5.25 0 C6.3 1 9 3.6 10.2 5.4 Q10.8 7 9.4 7 L7.55 7 L7.55 13.1 Q7.55 14 6.65 14 L3.85 14 Q2.95 14 2.95 13.1 L2.95 7 L1.1 7 Q-0.3 7 0.3 5.4 C1.5 3.6 4.2 1 5.25 0 Z" fill="#e8402c"/></svg><i>1.10</i></td><td class="bl"><b>-6.68</b><svg class="ar" viewBox="0 0 10.5 14"><path d="M5.25 0 C6.3 1 9 3.6 10.2 5.4 Q10.8 7 9.4 7 L7.55 7 L7.55 13.1 Q7.55 14 6.65 14 L3.85 14 Q2.95 14 2.95 13.1 L2.95 7 L1.1 7 Q-0.3 7 0.3 5.4 C1.5 3.6 4.2 1 5.25 0 Z" fill="#e8402c"/></svg><i>-11.89</i></td><td class="yl"><b>-71.61</b><svg class="ar" viewBox="0 0 10.5 14"><path d="M5.25 0 C6.3 1 9 3.6 10.2 5.4 Q10.8 7 9.4 7 L7.55 7 L7.55 13.1 Q7.55 14 6.65 14 L3.85 14 Q2.95 14 2.95 13.1 L2.95 7 L1.1 7 Q-0.3 7 0.3 5.4 C1.5 3.6 4.2 1 5.25 0 Z" fill="#e8402c"/></svg><i>-54.47</i></td><td class="yl w"><div class="l1"><b>-71.84</b><svg class="ar" viewBox="0 0 10.5 14"><path d="M5.25 0 C6.3 1 9 3.6 10.2 5.4 Q10.8 7 9.4 7 L7.55 7 L7.55 13.1 Q7.55 14 6.65 14 L3.85 14 Q2.95 14 2.95 13.1 L2.95 7 L1.1 7 Q-0.3 7 0.3 5.4 C1.5 3.6 4.2 1 5.25 0 Z" fill="#e8402c"/></svg></div><div class="l2"><i>-53.85</i></div></td></tr>
<tr><td class="n">机械设备(99%)</td><td class="bl"><b>51.05</b><svg class="ar" viewBox="0 0 10.5 14"><path d="M5.25 0 C6.3 1 9 3.6 10.2 5.4 Q10.8 7 9.4 7 L7.55 7 L7.55 13.1 Q7.55 14 6.65 14 L3.85 14 Q2.95 14 2.95 13.1 L2.95 7 L1.1 7 Q-0.3 7 0.3 5.4 C1.5 3.6 4.2 1 5.25 0 Z" fill="#e8402c"/></svg><i>50.74</i></td><td class="yl"><b>7.39</b><svg class="ar" viewBox="0 0 10.5 14"><path d="M5.25 0 C6.3 1 9 3.6 10.2 5.4 Q10.8 7 9.4 7 L7.55 7 L7.55 13.1 Q7.55 14 6.65 14 L3.85 14 Q2.95 14 2.95 13.1 L2.95 7 L1.1 7 Q-0.3 7 0.3 5.4 C1.5 3.6 4.2 1 5.25 0 Z" fill="#e8402c"/></svg><i>7.92</i></td><td class="yl"><b>6.52</b><svg class="ar" viewBox="0 0 10.5 14"><path d="M5.25 0 C6.3 1 9 3.6 10.2 5.4 Q10.8 7 9.4 7 L7.55 7 L7.55 13.1 Q7.55 14 6.65 14 L3.85 14 Q2.95 14 2.95 13.1 L2.95 7 L1.1 7 Q-0.3 7 0.3 5.4 C1.5 3.6 4.2 1 5.25 0 Z" fill="#e8402c"/></svg><i>6.85</i></td><td class="bl"><b>0.53</b><svg class="ar" viewBox="0 0 10.5 14"><path d="M5.25 14 C6.3 13 9 10.4 10.2 8.6 Q10.8 7 9.4 7 L7.55 7 L7.55 0.9 Q7.55 0 6.65 0 L3.85 0 Q2.95 0 2.95 0.9 L2.95 7 L1.1 7 Q-0.3 7 0.3 8.6 C1.5 10.4 4.2 13 5.25 14 Z" fill="#2fa32f"/></svg><i>0.11</i></td><td class="bl"><b>2.50</b><svg class="ar" viewBox="0 0 10.5 14"><path d="M5.25 14 C6.3 13 9 10.4 10.2 8.6 Q10.8 7 9.4 7 L7.55 7 L7.55 0.9 Q7.55 0 6.65 0 L3.85 0 Q2.95 0 2.95 0.9 L2.95 7 L1.1 7 Q-0.3 7 0.3 8.6 C1.5 10.4 4.2 13 5.25 14 Z" fill="#2fa32f"/></svg><i>0.52</i></td><td class="yl"><b>1.17</b><svg class="ar" viewBox="0 0 10.5 14"><path d="M5.25 0 C6.3 1 9 3.6 10.2 5.4 Q10.8 7 9.4 7 L7.55 7 L7.55 13.1 Q7.55 14 6.65 14 L3.85 14 Q2.95 14 2.95 13.1 L2.95 7 L1.1 7 Q-0.3 7 0.3 5.4 C1.5 3.6 4.2 1 5.25 0 Z" fill="#e8402c"/></svg><i>1.52</i></td><td class="bl"><b>116.88</b><svg class="ar" viewBox="0 0 10.5 14"><path d="M5.25 14 C6.3 13 9 10.4 10.2 8.6 Q10.8 7 9.4 7 L7.55 7 L7.55 0.9 Q7.55 0 6.65 0 L3.85 0 Q2.95 0 2.95 0.9 L2.95 7 L1.1 7 Q-0.3 7 0.3 8.6 C1.5 10.4 4.2 13 5.25 14 Z" fill="#2fa32f"/></svg><i>28.24</i></td><td class="yl"><b>1.21</b><svg class="ar" viewBox="0 0 10.5 14"><path d="M5.25 14 C6.3 13 9 10.4 10.2 8.6 Q10.8 7 9.4 7 L7.55 7 L7.55 0.9 Q7.55 0 6.65 0 L3.85 0 Q2.95 0 2.95 0.9 L2.95 7 L1.1 7 Q-0.3 7 0.3 8.6 C1.5 10.4 4.2 13 5.25 14 Z" fill="#2fa32f"/></svg><i>1.22</i></td><td class="yl"><b>2.04</b><svg class="ar" viewBox="0 0 10.5 14"><path d="M5.25 0 C6.3 1 9 3.6 10.2 5.4 Q10.8 7 9.4 7 L7.55 7 L7.55 13.1 Q7.55 14 6.65 14 L3.85 14 Q2.95 14 2.95 13.1 L2.95 7 L1.1 7 Q-0.3 7 0.3 5.4 C1.5 3.6 4.2 1 5.25 0 Z" fill="#e8402c"/></svg><i>3.72</i></td><td class="yl"><b>-5.80</b><svg class="ar" viewBox="0 0 10.5 14"><path d="M5.25 0 C6.3 1 9 3.6 10.2 5.4 Q10.8 7 9.4 7 L7.55 7 L7.55 13.1 Q7.55 14 6.65 14 L3.85 14 Q2.95 14 2.95 13.1 L2.95 7 L1.1 7 Q-0.3 7 0.3 5.4 C1.5 3.6 4.2 1 5.25 0 Z" fill="#e8402c"/></svg><i>3.38</i></td><td class="yl"><b>-6.41</b><svg class="ar" viewBox="0 0 10.5 14"><path d="M5.25 0 C6.3 1 9 3.6 10.2 5.4 Q10.8 7 9.4 7 L7.55 7 L7.55 13.1 Q7.55 14 6.65 14 L3.85 14 Q2.95 14 2.95 13.1 L2.95 7 L1.1 7 Q-0.3 7 0.3 5.4 C1.5 3.6 4.2 1 5.25 0 Z" fill="#e8402c"/></svg><i>3.45</i></td></tr>
<tr><td class="n">农林牧渔(100%)</td><td class="yl"><b>58.12</b><svg class="ar" viewBox="0 0 10.5 14"><path d="M5.25 0 C6.3 1 9 3.6 10.2 5.4 Q10.8 7 9.4 7 L7.55 7 L7.55 13.1 Q7.55 14 6.65 14 L3.85 14 Q2.95 14 2.95 13.1 L2.95 7 L1.1 7 Q-0.3 7 0.3 5.4 C1.5 3.6 4.2 1 5.25 0 Z" fill="#e8402c"/></svg><i>58.37</i></td><td class="bl"><b>-0.11</b><svg class="ar" viewBox="0 0 10.5 14"><path d="M5.25 14 C6.3 13 9 10.4 10.2 8.6 Q10.8 7 9.4 7 L7.55 7 L7.55 0.9 Q7.55 0 6.65 0 L3.85 0 Q2.95 0 2.95 0.9 L2.95 7 L1.1 7 Q-0.3 7 0.3 8.6 C1.5 10.4 4.2 13 5.25 14 Z" fill="#2fa32f"/></svg><i>-0.48</i></td><td class="bl"><b>-0.52</b><svg class="ar" viewBox="0 0 10.5 14"><path d="M5.25 14 C6.3 13 9 10.4 10.2 8.6 Q10.8 7 9.4 7 L7.55 7 L7.55 0.9 Q7.55 0 6.65 0 L3.85 0 Q2.95 0 2.95 0.9 L2.95 7 L1.1 7 Q-0.3 7 0.3 8.6 C1.5 10.4 4.2 13 5.25 14 Z" fill="#2fa32f"/></svg><i>-0.86</i></td><td class="bl"><b>0.96</b><svg class="ar" viewBox="0 0 10.5 14"><path d="M5.25 14 C6.3 13 9 10.4 10.2 8.6 Q10.8 7 9.4 7 L7.55 7 L7.55 0.9 Q7.55 0 6.65 0 L3.85 0 Q2.95 0 2.95 0.9 L2.95 7 L1.1 7 Q-0.3 7 0.3 8.6 C1.5 10.4 4.2 13 5.25 14 Z" fill="#2fa32f"/></svg><i>0.20</i></td><td class="bl"><b>4.66</b><svg class="ar" viewBox="0 0 10.5 14"><path d="M5.25 14 C6.3 13 9 10.4 10.2 8.6 Q10.8 7 9.4 7 L7.55 7 L7.55 0.9 Q7.55 0 6.65 0 L3.85 0 Q2.95 0 2.95 0.9 L2.95 7 L1.1 7 Q-0.3 7 0.3 8.6 C1.5 10.4 4.2 13 5.25 14 Z" fill="#2fa32f"/></svg><i>1.03</i></td><td class="bl"><b>0.80</b><svg class="ar" viewBox="0 0 10.5 14"><path d="M5.25 14 C6.3 13 9 10.4 10.2 8.6 Q10.8 7 9.4 7 L7.55 7 L7.55 0.9 Q7.55 0 6.65 0 L3.85 0 Q2.95 0 2.95 0.9 L2.95 7 L1.1 7 Q-0.3 7 0.3 8.6 C1.5 10.4 4.2 13 5.25 14 Z" fill="#2fa32f"/></svg><i>-0.32</i></td><td class="yl"><b>-4.58</b><svg class="ar" viewBox="0 0 10.5 14"><path d="M5.25 0 C6.3 1 9 3.6 10.2 5.4 Q10.8 7 9.4 7 L7.55 7 L7.55 13.1 Q7.55 14 6.65 14 L3.85 14 Q2.95 14 2.95 13.1 L2.95 7 L1.1 7 Q-0.3 7 0.3 5.4 C1.5 3.6 4.2 1 5.25 0 Z" fill="#e8402c"/></svg><i>15.86</i></td><td class="yl"><b>0.58</b><svg class="ar" viewBox="0 0 10.5 14"><path d="M5.25 0 C6.3 1 9 3.6 10.2 5.4 Q10.8 7 9.4 7 L7.55 7 L7.55 13.1 Q7.55 14 6.65 14 L3.85 14 Q2.95 14 2.95 13.1 L2.95 7 L1.1 7 Q-0.3 7 0.3 5.4 C1.5 3.6 4.2 1 5.25 0 Z" fill="#e8402c"/></svg><i>0.61</i></td><td class="bl"><b>-5.05</b><svg class="ar" viewBox="0 0 10.5 14"><path d="M5.25 0 C6.3 1 9 3.6 10.2 5.4 Q10.8 7 9.4 7 L7.55 7 L7.55 13.1 Q7.55 14 6.65 14 L3.85 14 Q2.95 14 2.95 13.1 L2.95 7 L1.1 7 Q-0.3 7 0.3 5.4 C1.5 3.6 4.2 1 5.25 0 Z" fill="#e8402c"/></svg><i>-5.67</i></td><td class="yl"><b>-80.11</b><svg class="ar" viewBox="0 0 10.5 14"><path d="M5.25 0 C6.3 1 9 3.6 10.2 5.4 Q10.8 7 9.4 7 L7.55 7 L7.55 13.1 Q7.55 14 6.65 14 L3.85 14 Q2.95 14 2.95 13.1 L2.95 7 L1.1 7 Q-0.3 7 0.3 5.4 C1.5 3.6 4.2 1 5.25 0 Z" fill="#e8402c"/></svg><i>48.72</i></td><td class="yl"><b>-69.27</b><svg class="ar" viewBox="0 0 10.5 14"><path d="M5.25 0 C6.3 1 9 3.6 10.2 5.4 Q10.8 7 9.4 7 L7.55 7 L7.55 13.1 Q7.55 14 6.65 14 L3.85 14 Q2.95 14 2.95 13.1 L2.95 7 L1.1 7 Q-0.3 7 0.3 5.4 C1.5 3.6 4.2 1 5.25 0 Z" fill="#e8402c"/></svg><i>59.62</i></td></tr>
<tr class="gs"><td class="g" rowspan="12">下游</td><td class="n">医药生物(100%)</td><td class="bl"><b>38.67</b><svg class="ar" viewBox="0 0 10.5 14"><path d="M5.25 14 C6.3 13 9 10.4 10.2 8.6 Q10.8 7 9.4 7 L7.55 7 L7.55 0.9 Q7.55 0 6.65 0 L3.85 0 Q2.95 0 2.95 0.9 L2.95 7 L1.1 7 Q-0.3 7 0.3 8.6 C1.5 10.4 4.2 13 5.25 14 Z" fill="#2fa32f"/></svg><i>38.52</i></td><td class="yl"><b>8.44</b><svg class="ar" viewBox="0 0 10.5 14"><path d="M5.25 0 C6.3 1 9 3.6 10.2 5.4 Q10.8 7 9.4 7 L7.55 7 L7.55 13.1 Q7.55 14 6.65 14 L3.85 14 Q2.95 14 2.95 13.1 L2.95 7 L1.1 7 Q-0.3 7 0.3 5.4 C1.5 3.6 4.2 1 5.25 0 Z" fill="#e8402c"/></svg><i>10.67</i></td><td class="yl"><b>6.81</b><svg class="ar" viewBox="0 0 10.5 14"><path d="M5.25 0 C6.3 1 9 3.6 10.2 5.4 Q10.8 7 9.4 7 L7.55 7 L7.55 13.1 Q7.55 14 6.65 14 L3.85 14 Q2.95 14 2.95 13.1 L2.95 7 L1.1 7 Q-0.3 7 0.3 5.4 C1.5 3.6 4.2 1 5.25 0 Z" fill="#e8402c"/></svg><i>8.85</i></td><td class="bl"><b>0.65</b><svg class="ar" viewBox="0 0 10.5 14"><path d="M5.25 14 C6.3 13 9 10.4 10.2 8.6 Q10.8 7 9.4 7 L7.55 7 L7.55 0.9 Q7.55 0 6.65 0 L3.85 0 Q2.95 0 2.95 0.9 L2.95 7 L1.1 7 Q-0.3 7 0.3 8.6 C1.5 10.4 4.2 13 5.25 14 Z" fill="#2fa32f"/></svg><i>0.16</i></td><td class="bl"><b>3.90</b><svg class="ar" viewBox="0 0 10.5 14"><path d="M5.25 14 C6.3 13 9 10.4 10.2 8.6 Q10.8 7 9.4 7 L7.55 7 L7.55 0.9 Q7.55 0 6.65 0 L3.85 0 Q2.95 0 2.95 0.9 L2.95 7 L1.1 7 Q-0.3 7 0.3 8.6 C1.5 10.4 4.2 13 5.25 14 Z" fill="#2fa32f"/></svg><i>0.99</i></td><td class="yl"><b>0.32</b><svg class="ar" viewBox="0 0 10.5 14"><path d="M5.25 0 C6.3 1 9 3.6 10.2 5.4 Q10.8 7 9.4 7 L7.55 7 L7.55 13.1 Q7.55 14 6.65 14 L3.85 14 Q2.95 14 2.95 13.1 L2.95 7 L1.1 7 Q-0.3 7 0.3 5.4 C1.5 3.6 4.2 1 5.25 0 Z" fill="#e8402c"/></svg><i>2.32</i></td><td class="yl"><b>4.41</b><svg class="ar" viewBox="0 0 10.5 14"><path d="M5.25 0 C6.3 1 9 3.6 10.2 5.4 Q10.8 7 9.4 7 L7.55 7 L7.55 13.1 Q7.55 14 6.65 14 L3.85 14 Q2.95 14 2.95 13.1 L2.95 7 L1.1 7 Q-0.3 7 0.3 5.4 C1.5 3.6 4.2 1 5.25 0 Z" fill="#e8402c"/></svg><i>9.01</i></td><td class="yl"><b>1.52</b><svg class="ar" viewBox="0 0 10.5 14"><path d="M5.25 0 C6.3 1 9 3.6 10.2 5.4 Q10.8 7 9.4 7 L7.55 7 L7.55 13.1 Q7.55 14 6.65 14 L3.85 14 Q2.95 14 2.95 13.1 L2.95 7 L1.1 7 Q-0.3 7 0.3 5.4 C1.5 3.6 4.2 1 5.25 0 Z" fill="#e8402c"/></svg><i>1.56</i></td><td class="yl"><b>-1.71</b><svg class="ar" viewBox="0 0 10.5 14"><path d="M5.25 0 C6.3 1 9 3.6 10.2 5.4 Q10.8 7 9.4 7 L7.55 7 L7.55 13.1 Q7.55 14 6.65 14 L3.85 14 Q2.95 14 2.95 13.1 L2.95 7 L1.1 7 Q-0.3 7 0.3 5.4 C1.5 3.6 4.2 1 5.25 0 Z" fill="#e8402c"/></svg><i>0.53</i></td><td class="yl"><b>-45.27</b><svg class="ar" viewBox="0 0 10.5 14"><path d="M5.25 0 C6.3 1 9 3.6 10.2 5.4 Q10.8 7 9.4 7 L7.55 7 L7.55 13.1 Q7.55 14 6.65 14 L3.85 14 Q2.95 14 2.95 13.1 L2.95 7 L1.1 7 Q-0.3 7 0.3 5.4 C1.5 3.6 4.2 1 5.25 0 Z" fill="#e8402c"/></svg><i>-0.37</i></td><td class="yl"><b>-44.89</b><svg class="ar" viewBox="0 0 10.5 14"><path d="M5.25 0 C6.3 1 9 3.6 10.2 5.4 Q10.8 7 9.4 7 L7.55 7 L7.55 13.1 Q7.55 14 6.65 14 L3.85 14 Q2.95 14 2.95 13.1 L2.95 7 L1.1 7 Q-0.3 7 0.3 5.4 C1.5 3.6 4.2 1 5.25 0 Z" fill="#e8402c"/></svg><i>-0.08</i></td></tr>
<tr><td class="n">交通运输(100%)</td><td class="yl"><b>56.85</b><svg class="ar" viewBox="0 0 10.5 14"><path d="M5.25 0 C6.3 1 9 3.6 10.2 5.4 Q10.8 7 9.4 7 L7.55 7 L7.55 13.1 Q7.55 14 6.65 14 L3.85 14 Q2.95 14 2.95 13.1 L2.95 7 L1.1 7 Q-0.3 7 0.3 5.4 C1.5 3.6 4.2 1 5.25 0 Z" fill="#e8402c"/></svg><i>57.14</i></td><td class="yl"><b>5.02</b><svg class="ar" viewBox="0 0 10.5 14"><path d="M5.25 0 C6.3 1 9 3.6 10.2 5.4 Q10.8 7 9.4 7 L7.55 7 L7.55 13.1 Q7.55 14 6.65 14 L3.85 14 Q2.95 14 2.95 13.1 L2.95 7 L1.1 7 Q-0.3 7 0.3 5.4 C1.5 3.6 4.2 1 5.25 0 Z" fill="#e8402c"/></svg><i>6.07</i></td><td class="yl"><b>4.22</b><svg class="ar" viewBox="0 0 10.5 14"><path d="M5.25 0 C6.3 1 9 3.6 10.2 5.4 Q10.8 7 9.4 7 L7.55 7 L7.55 13.1 Q7.55 14 6.65 14 L3.85 14 Q2.95 14 2.95 13.1 L2.95 7 L1.1 7 Q-0.3 7 0.3 5.4 C1.5 3.6 4.2 1 5.25 0 Z" fill="#e8402c"/></svg><i>4.86</i></td><td class="bl"><b>0.75</b><svg class="ar" viewBox="0 0 10.5 14"><path d="M5.25 14 C6.3 13 9 10.4 10.2 8.6 Q10.8 7 9.4 7 L7.55 7 L7.55 0.9 Q7.55 0 6.65 0 L3.85 0 Q2.95 0 2.95 0.9 L2.95 7 L1.1 7 Q-0.3 7 0.3 8.6 C1.5 10.4 4.2 13 5.25 14 Z" fill="#2fa32f"/></svg><i>0.17</i></td><td class="bl"><b>7.89</b><svg class="ar" viewBox="0 0 10.5 14"><path d="M5.25 14 C6.3 13 9 10.4 10.2 8.6 Q10.8 7 9.4 7 L7.55 7 L7.55 0.9 Q7.55 0 6.65 0 L3.85 0 Q2.95 0 2.95 0.9 L2.95 7 L1.1 7 Q-0.3 7 0.3 8.6 C1.5 10.4 4.2 13 5.25 14 Z" fill="#2fa32f"/></svg><i>1.59</i></td><td class="yl"><b>0.66</b><svg class="ar" viewBox="0 0 10.5 14"><path d="M5.25 0 C6.3 1 9 3.6 10.2 5.4 Q10.8 7 9.4 7 L7.55 7 L7.55 13.1 Q7.55 14 6.65 14 L3.85 14 Q2.95 14 2.95 13.1 L2.95 7 L1.1 7 Q-0.3 7 0.3 5.4 C1.5 3.6 4.2 1 5.25 0 Z" fill="#e8402c"/></svg><i>2.01</i></td><td class="bl"><b>30.06</b><svg class="ar" viewBox="0 0 10.5 14"><path d="M5.25 14 C6.3 13 9 10.4 10.2 8.6 Q10.8 7 9.4 7 L7.55 7 L7.55 0.9 Q7.55 0 6.65 0 L3.85 0 Q2.95 0 2.95 0.9 L2.95 7 L1.1 7 Q-0.3 7 0.3 8.6 C1.5 10.4 4.2 13 5.25 14 Z" fill="#2fa32f"/></svg><i>28.29</i></td><td class="bl"><b>0.81</b><svg class="ar" viewBox="0 0 10.5 14"><path d="M5.25 14 C6.3 13 9 10.4 10.2 8.6 Q10.8 7 9.4 7 L7.55 7 L7.55 0.9 Q7.55 0 6.65 0 L3.85 0 Q2.95 0 2.95 0.9 L2.95 7 L1.1 7 Q-0.3 7 0.3 8.6 C1.5 10.4 4.2 13 5.25 14 Z" fill="#2fa32f"/></svg><i>0.80</i></td><td class="yl"><b>-12.74</b><svg class="ar" viewBox="0 0 10.5 14"><path d="M5.25 0 C6.3 1 9 3.6 10.2 5.4 Q10.8 7 9.4 7 L7.55 7 L7.55 13.1 Q7.55 14 6.65 14 L3.85 14 Q2.95 14 2.95 13.1 L2.95 7 L1.1 7 Q-0.3 7 0.3 5.4 C1.5 3.6 4.2 1 5.25 0 Z" fill="#e8402c"/></svg><i>-1.40</i></td><td class="bl"><b>332.76</b><svg class="ar" viewBox="0 0 10.5 14"><path d="M5.25 14 C6.3 13 9 10.4 10.2 8.6 Q10.8 7 9.4 7 L7.55 7 L7.55 0.9 Q7.55 0 6.65 0 L3.85 0 Q2.95 0 2.95 0.9 L2.95 7 L1.1 7 Q-0.3 7 0.3 8.6 C1.5 10.4 4.2 13 5.25 14 Z" fill="#2fa32f"/></svg><i>21.89</i></td><td class="bl"><b>635.84</b><svg class="ar" viewBox="0 0 10.5 14"><path d="M5.25 14 C6.3 13 9 10.4 10.2 8.6 Q10.8 7 9.4 7 L7.55 7 L7.55 0.9 Q7.55 0 6.65 0 L3.85 0 Q2.95 0 2.95 0.9 L2.95 7 L1.1 7 Q-0.3 7 0.3 8.6 C1.5 10.4 4.2 13 5.25 14 Z" fill="#2fa32f"/></svg><i>25.85</i></td></tr>
<tr><td class="n">社会服务(100%)</td><td class="bl"><b>47.26</b><svg class="ar" viewBox="0 0 10.5 14"><path d="M5.25 0 C6.3 1 9 3.6 10.2 5.4 Q10.8 7 9.4 7 L7.55 7 L7.55 13.1 Q7.55 14 6.65 14 L3.85 14 Q2.95 14 2.95 13.1 L2.95 7 L1.1 7 Q-0.3 7 0.3 5.4 C1.5 3.6 4.2 1 5.25 0 Z" fill="#e8402c"/></svg><i>46.40</i></td><td class="bl"><b>9.07</b><svg class="ar" viewBox="0 0 10.5 14"><path d="M5.25 14 C6.3 13 9 10.4 10.2 8.6 Q10.8 7 9.4 7 L7.55 7 L7.55 0.9 Q7.55 0 6.65 0 L3.85 0 Q2.95 0 2.95 0.9 L2.95 7 L1.1 7 Q-0.3 7 0.3 8.6 C1.5 10.4 4.2 13 5.25 14 Z" fill="#2fa32f"/></svg><i>5.94</i></td><td class="bl"><b>6.81</b><svg class="ar" viewBox="0 0 10.5 14"><path d="M5.25 14 C6.3 13 9 10.4 10.2 8.6 Q10.8 7 9.4 7 L7.55 7 L7.55 0.9 Q7.55 0 6.65 0 L3.85 0 Q2.95 0 2.95 0.9 L2.95 7 L1.1 7 Q-0.3 7 0.3 8.6 C1.5 10.4 4.2 13 5.25 14 Z" fill="#2fa32f"/></svg><i>4.43</i></td><td class="bl"><b>0.55</b><svg class="ar" viewBox="0 0 10.5 14"><path d="M5.25 14 C6.3 13 9 10.4 10.2 8.6 Q10.8 7 9.4 7 L7.55 7 L7.55 0.9 Q7.55 0 6.65 0 L3.85 0 Q2.95 0 2.95 0.9 L2.95 7 L1.1 7 Q-0.3 7 0.3 8.6 C1.5 10.4 4.2 13 5.25 14 Z" fill="#2fa32f"/></svg><i>0.13</i></td><td class="bl"><b>10.63</b><svg class="ar" viewBox="0 0 10.5 14"><path d="M5.25 14 C6.3 13 9 10.4 10.2 8.6 Q10.8 7 9.4 7 L7.55 7 L7.55 0.9 Q7.55 0 6.65 0 L3.85 0 Q2.95 0 2.95 0.9 L2.95 7 L1.1 7 Q-0.3 7 0.3 8.6 C1.5 10.4 4.2 13 5.25 14 Z" fill="#2fa32f"/></svg><i>2.92</i></td><td class="bl"><b>2.47</b><svg class="ar" viewBox="0 0 10.5 14"><path d="M5.25 14 C6.3 13 9 10.4 10.2 8.6 Q10.8 7 9.4 7 L7.55 7 L7.55 0.9 Q7.55 0 6.65 0 L3.85 0 Q2.95 0 2.95 0.9 L2.95 7 L1.1 7 Q-0.3 7 0.3 8.6 C1.5 10.4 4.2 13 5.25 14 Z" fill="#2fa32f"/></svg><i>1.00</i></td><td class="bl"><b>18.22</b><svg class="ar" viewBox="0 0 10.5 14"><path d="M5.25 14 C6.3 13 9 10.4 10.2 8.6 Q10.8 7 9.4 7 L7.55 7 L7.55 0.9 Q7.55 0 6.65 0 L3.85 0 Q2.95 0 2.95 0.9 L2.95 7 L1.1 7 Q-0.3 7 0.3 8.6 C1.5 10.4 4.2 13 5.25 14 Z" fill="#2fa32f"/></svg><i>-8.66</i></td><td class="bl"><b>1.29</b><svg class="ar" viewBox="0 0 10.5 14"><path d="M5.25 14 C6.3 13 9 10.4 10.2 8.6 Q10.8 7 9.4 7 L7.55 7 L7.55 0.9 Q7.55 0 6.65 0 L3.85 0 Q2.95 0 2.95 0.9 L2.95 7 L1.1 7 Q-0.3 7 0.3 8.6 C1.5 10.4 4.2 13 5.25 14 Z" fill="#2fa32f"/></svg><i>1.29</i></td><td class="bl"><b>31.02</b><svg class="ar" viewBox="0 0 10.5 14"><path d="M5.25 14 C6.3 13 9 10.4 10.2 8.6 Q10.8 7 9.4 7 L7.55 7 L7.55 0.9 Q7.55 0 6.65 0 L3.85 0 Q2.95 0 2.95 0.9 L2.95 7 L1.1 7 Q-0.3 7 0.3 8.6 C1.5 10.4 4.2 13 5.25 14 Z" fill="#2fa32f"/></svg><i>15.17</i></td><td class="bl"><b>171.98</b><svg class="ar" viewBox="0 0 10.5 14"><path d="M5.25 14 C6.3 13 9 10.4 10.2 8.6 Q10.8 7 9.4 7 L7.55 7 L7.55 0.9 Q7.55 0 6.65 0 L3.85 0 Q2.95 0 2.95 0.9 L2.95 7 L1.1 7 Q-0.3 7 0.3 8.6 C1.5 10.4 4.2 13 5.25 14 Z" fill="#2fa32f"/></svg><i>37.48</i></td><td class="bl"><b>167.27</b><svg class="ar" viewBox="0 0 10.5 14"><path d="M5.25 14 C6.3 13 9 10.4 10.2 8.6 Q10.8 7 9.4 7 L7.55 7 L7.55 0.9 Q7.55 0 6.65 0 L3.85 0 Q2.95 0 2.95 0.9 L2.95 7 L1.1 7 Q-0.3 7 0.3 8.6 C1.5 10.4 4.2 13 5.25 14 Z" fill="#2fa32f"/></svg><i>55.08</i></td></tr>
<tr><td class="n">房地产(100%)</td><td class="bl"><b>75.51</b><svg class="ar" viewBox="0 0 10.5 14"><path d="M5.25 0 C6.3 1 9 3.6 10.2 5.4 Q10.8 7 9.4 7 L7.55 7 L7.55 13.1 Q7.55 14 6.65 14 L3.85 14 Q2.95 14 2.95 13.1 L2.95 7 L1.1 7 Q-0.3 7 0.3 5.4 C1.5 3.6 4.2 1 5.25 0 Z" fill="#e8402c"/></svg><i>75.25</i></td><td class="bl"><b>3.78</b><svg class="ar" viewBox="0 0 10.5 14"><path d="M5.25 0 C6.3 1 9 3.6 10.2 5.4 Q10.8 7 9.4 7 L7.55 7 L7.55 13.1 Q7.55 14 6.65 14 L3.85 14 Q2.95 14 2.95 13.1 L2.95 7 L1.1 7 Q-0.3 7 0.3 5.4 C1.5 3.6 4.2 1 5.25 0 Z" fill="#e8402c"/></svg><i>3.40</i></td><td class="yl"><b>1.04</b><svg class="ar" viewBox="0 0 10.5 14"><path d="M5.25 0 C6.3 1 9 3.6 10.2 5.4 Q10.8 7 9.4 7 L7.55 7 L7.55 13.1 Q7.55 14 6.65 14 L3.85 14 Q2.95 14 2.95 13.1 L2.95 7 L1.1 7 Q-0.3 7 0.3 5.4 C1.5 3.6 4.2 1 5.25 0 Z" fill="#e8402c"/></svg><i>1.58</i></td><td class="bl"><b>0.23</b><svg class="ar" viewBox="0 0 10.5 14"><path d="M5.25 14 C6.3 13 9 10.4 10.2 8.6 Q10.8 7 9.4 7 L7.55 7 L7.55 0.9 Q7.55 0 6.65 0 L3.85 0 Q2.95 0 2.95 0.9 L2.95 7 L1.1 7 Q-0.3 7 0.3 8.6 C1.5 10.4 4.2 13 5.25 14 Z" fill="#2fa32f"/></svg><i>0.03</i></td><td class="bl"><b>0.37</b><svg class="ar" viewBox="0 0 10.5 14"><path d="M5.25 14 C6.3 13 9 10.4 10.2 8.6 Q10.8 7 9.4 7 L7.55 7 L7.55 0.9 Q7.55 0 6.65 0 L3.85 0 Q2.95 0 2.95 0.9 L2.95 7 L1.1 7 Q-0.3 7 0.3 8.6 C1.5 10.4 4.2 13 5.25 14 Z" fill="#2fa32f"/></svg><i>0.05</i></td><td class="yl"><b>-2.44</b><svg class="ar" viewBox="0 0 10.5 14"><path d="M5.25 0 C6.3 1 9 3.6 10.2 5.4 Q10.8 7 9.4 7 L7.55 7 L7.55 13.1 Q7.55 14 6.65 14 L3.85 14 Q2.95 14 2.95 13.1 L2.95 7 L1.1 7 Q-0.3 7 0.3 5.4 C1.5 3.6 4.2 1 5.25 0 Z" fill="#e8402c"/></svg><i>0.07</i></td><td class="yl"><b>0.76</b><svg class="ar" viewBox="0 0 10.5 14"><path d="M5.25 0 C6.3 1 9 3.6 10.2 5.4 Q10.8 7 9.4 7 L7.55 7 L7.55 13.1 Q7.55 14 6.65 14 L3.85 14 Q2.95 14 2.95 13.1 L2.95 7 L1.1 7 Q-0.3 7 0.3 5.4 C1.5 3.6 4.2 1 5.25 0 Z" fill="#e8402c"/></svg><i>4.38</i></td><td class="yl"><b>0.53</b><svg class="ar" viewBox="0 0 10.5 14"><path d="M5.25 14 C6.3 13 9 10.4 10.2 8.6 Q10.8 7 9.4 7 L7.55 7 L7.55 0.9 Q7.55 0 6.65 0 L3.85 0 Q2.95 0 2.95 0.9 L2.95 7 L1.1 7 Q-0.3 7 0.3 8.6 C1.5 10.4 4.2 13 5.25 14 Z" fill="#2fa32f"/></svg><i>0.53</i></td><td class="bl"><b>-4.91</b><svg class="ar" viewBox="0 0 10.5 14"><path d="M5.25 14 C6.3 13 9 10.4 10.2 8.6 Q10.8 7 9.4 7 L7.55 7 L7.55 0.9 Q7.55 0 6.65 0 L3.85 0 Q2.95 0 2.95 0.9 L2.95 7 L1.1 7 Q-0.3 7 0.3 8.6 C1.5 10.4 4.2 13 5.25 14 Z" fill="#2fa32f"/></svg><i>-14.32</i></td><td class="bl"><b>-27.03</b><svg class="ar" viewBox="0 0 10.5 14"><path d="M5.25 14 C6.3 13 9 10.4 10.2 8.6 Q10.8 7 9.4 7 L7.55 7 L7.55 0.9 Q7.55 0 6.65 0 L3.85 0 Q2.95 0 2.95 0.9 L2.95 7 L1.1 7 Q-0.3 7 0.3 8.6 C1.5 10.4 4.2 13 5.25 14 Z" fill="#2fa32f"/></svg><i>-72.59</i></td><td class="bl w"><div class="l1"><b>-11.19</b><svg class="ar" viewBox="0 0 10.5 14"><path d="M5.25 14 C6.3 13 9 10.4 10.2 8.6 Q10.8 7 9.4 7 L7.55 7 L7.55 0.9 Q7.55 0 6.65 0 L3.85 0 Q2.95 0 2.95 0.9 L2.95 7 L1.1 7 Q-0.3 7 0.3 8.6 C1.5 10.4 4.2 13 5.25 14 Z" fill="#2fa32f"/></svg></div><div class="l2"><i>-92.14</i></div></td></tr>
<tr><td class="n">食品饮料(100%)</td><td class="bl"><b>34.06</b><svg class="ar" viewBox="0 0 10.5 14"><path d="M5.25 14 C6.3 13 9 10.4 10.2 8.6 Q10.8 7 9.4 7 L7.55 7 L7.55 0.9 Q7.55 0 6.65 0 L3.85 0 Q2.95 0 2.95 0.9 L2.95 7 L1.1 7 Q-0.3 7 0.3 8.6 C1.5 10.4 4.2 13 5.25 14 Z" fill="#2fa32f"/></svg><i>31.57</i></td><td class="yl"><b>26.42</b><svg class="ar" viewBox="0 0 10.5 14"><path d="M5.25 0 C6.3 1 9 3.6 10.2 5.4 Q10.8 7 9.4 7 L7.55 7 L7.55 13.1 Q7.55 14 6.65 14 L3.85 14 Q2.95 14 2.95 13.1 L2.95 7 L1.1 7 Q-0.3 7 0.3 5.4 C1.5 3.6 4.2 1 5.25 0 Z" fill="#e8402c"/></svg><i>34.21</i></td><td class="yl"><b>20.20</b><svg class="ar" viewBox="0 0 10.5 14"><path d="M5.25 0 C6.3 1 9 3.6 10.2 5.4 Q10.8 7 9.4 7 L7.55 7 L7.55 13.1 Q7.55 14 6.65 14 L3.85 14 Q2.95 14 2.95 13.1 L2.95 7 L1.1 7 Q-0.3 7 0.3 5.4 C1.5 3.6 4.2 1 5.25 0 Z" fill="#e8402c"/></svg><i>26.20</i></td><td class="bl"><b>0.70</b><svg class="ar" viewBox="0 0 10.5 14"><path d="M5.25 14 C6.3 13 9 10.4 10.2 8.6 Q10.8 7 9.4 7 L7.55 7 L7.55 0.9 Q7.55 0 6.65 0 L3.85 0 Q2.95 0 2.95 0.9 L2.95 7 L1.1 7 Q-0.3 7 0.3 8.6 C1.5 10.4 4.2 13 5.25 14 Z" fill="#2fa32f"/></svg><i>0.20</i></td><td class="bl"><b>2.28</b><svg class="ar" viewBox="0 0 10.5 14"><path d="M5.25 14 C6.3 13 9 10.4 10.2 8.6 Q10.8 7 9.4 7 L7.55 7 L7.55 0.9 Q7.55 0 6.65 0 L3.85 0 Q2.95 0 2.95 0.9 L2.95 7 L1.1 7 Q-0.3 7 0.3 8.6 C1.5 10.4 4.2 13 5.25 14 Z" fill="#2fa32f"/></svg><i>0.62</i></td><td class="yl"><b>4.38</b><svg class="ar" viewBox="0 0 10.5 14"><path d="M5.25 0 C6.3 1 9 3.6 10.2 5.4 Q10.8 7 9.4 7 L7.55 7 L7.55 13.1 Q7.55 14 6.65 14 L3.85 14 Q2.95 14 2.95 13.1 L2.95 7 L1.1 7 Q-0.3 7 0.3 5.4 C1.5 3.6 4.2 1 5.25 0 Z" fill="#e8402c"/></svg><i>7.59</i></td><td class="yl"><b>46.31</b><svg class="ar" viewBox="0 0 10.5 14"><path d="M5.25 0 C6.3 1 9 3.6 10.2 5.4 Q10.8 7 9.4 7 L7.55 7 L7.55 13.1 Q7.55 14 6.65 14 L3.85 14 Q2.95 14 2.95 13.1 L2.95 7 L1.1 7 Q-0.3 7 0.3 5.4 C1.5 3.6 4.2 1 5.25 0 Z" fill="#e8402c"/></svg><i>312.96</i></td><td class="yl"><b>1.71</b><svg class="ar" viewBox="0 0 10.5 14"><path d="M5.25 0 C6.3 1 9 3.6 10.2 5.4 Q10.8 7 9.4 7 L7.55 7 L7.55 13.1 Q7.55 14 6.65 14 L3.85 14 Q2.95 14 2.95 13.1 L2.95 7 L1.1 7 Q-0.3 7 0.3 5.4 C1.5 3.6 4.2 1 5.25 0 Z" fill="#e8402c"/></svg><i>1.96</i></td><td class="yl"><b>3.58</b><svg class="ar" viewBox="0 0 10.5 14"><path d="M5.25 0 C6.3 1 9 3.6 10.2 5.4 Q10.8 7 9.4 7 L7.55 7 L7.55 13.1 Q7.55 14 6.65 14 L3.85 14 Q2.95 14 2.95 13.1 L2.95 7 L1.1 7 Q-0.3 7 0.3 5.4 C1.5 3.6 4.2 1 5.25 0 Z" fill="#e8402c"/></svg><i>8.01</i></td><td class="bl"><b>24.43</b><svg class="ar" viewBox="0 0 10.5 14"><path d="M5.25 14 C6.3 13 9 10.4 10.2 8.6 Q10.8 7 9.4 7 L7.55 7 L7.55 0.9 Q7.55 0 6.65 0 L3.85 0 Q2.95 0 2.95 0.9 L2.95 7 L1.1 7 Q-0.3 7 0.3 8.6 C1.5 10.4 4.2 13 5.25 14 Z" fill="#2fa32f"/></svg><i>15.95</i></td><td class="bl"><b>25.36</b><svg class="ar" viewBox="0 0 10.5 14"><path d="M5.25 14 C6.3 13 9 10.4 10.2 8.6 Q10.8 7 9.4 7 L7.55 7 L7.55 0.9 Q7.55 0 6.65 0 L3.85 0 Q2.95 0 2.95 0.9 L2.95 7 L1.1 7 Q-0.3 7 0.3 8.6 C1.5 10.4 4.2 13 5.25 14 Z" fill="#2fa32f"/></svg><i>16.03</i></td></tr>
<tr><td class="n">商贸零售(100%)</td><td class="bl"><b>62.93</b><svg class="ar" viewBox="0 0 10.5 14"><path d="M5.25 0 C6.3 1 9 3.6 10.2 5.4 Q10.8 7 9.4 7 L7.55 7 L7.55 13.1 Q7.55 14 6.65 14 L3.85 14 Q2.95 14 2.95 13.1 L2.95 7 L1.1 7 Q-0.3 7 0.3 5.4 C1.5 3.6 4.2 1 5.25 0 Z" fill="#e8402c"/></svg><i>62.73</i></td><td class="yl"><b>2.11</b><svg class="ar" viewBox="0 0 10.5 14"><path d="M5.25 0 C6.3 1 9 3.6 10.2 5.4 Q10.8 7 9.4 7 L7.55 7 L7.55 13.1 Q7.55 14 6.65 14 L3.85 14 Q2.95 14 2.95 13.1 L2.95 7 L1.1 7 Q-0.3 7 0.3 5.4 C1.5 3.6 4.2 1 5.25 0 Z" fill="#e8402c"/></svg><i>3.55</i></td><td class="yl"><b>1.29</b><svg class="ar" viewBox="0 0 10.5 14"><path d="M5.25 0 C6.3 1 9 3.6 10.2 5.4 Q10.8 7 9.4 7 L7.55 7 L7.55 13.1 Q7.55 14 6.65 14 L3.85 14 Q2.95 14 2.95 13.1 L2.95 7 L1.1 7 Q-0.3 7 0.3 5.4 C1.5 3.6 4.2 1 5.25 0 Z" fill="#e8402c"/></svg><i>2.76</i></td><td class="bl"><b>0.87</b><svg class="ar" viewBox="0 0 10.5 14"><path d="M5.25 14 C6.3 13 9 10.4 10.2 8.6 Q10.8 7 9.4 7 L7.55 7 L7.55 0.9 Q7.55 0 6.65 0 L3.85 0 Q2.95 0 2.95 0.9 L2.95 7 L1.1 7 Q-0.3 7 0.3 8.6 C1.5 10.4 4.2 13 5.25 14 Z" fill="#2fa32f"/></svg><i>0.21</i></td><td class="bl"><b>5.47</b><svg class="ar" viewBox="0 0 10.5 14"><path d="M5.25 14 C6.3 13 9 10.4 10.2 8.6 Q10.8 7 9.4 7 L7.55 7 L7.55 0.9 Q7.55 0 6.65 0 L3.85 0 Q2.95 0 2.95 0.9 L2.95 7 L1.1 7 Q-0.3 7 0.3 8.6 C1.5 10.4 4.2 13 5.25 14 Z" fill="#2fa32f"/></svg><i>1.37</i></td><td class="yl"><b>-1.07</b><svg class="ar" viewBox="0 0 10.5 14"><path d="M5.25 0 C6.3 1 9 3.6 10.2 5.4 Q10.8 7 9.4 7 L7.55 7 L7.55 13.1 Q7.55 14 6.65 14 L3.85 14 Q2.95 14 2.95 13.1 L2.95 7 L1.1 7 Q-0.3 7 0.3 5.4 C1.5 3.6 4.2 1 5.25 0 Z" fill="#e8402c"/></svg><i>1.48</i></td><td class="bl"><b>32.14</b><svg class="ar" viewBox="0 0 10.5 14"><path d="M5.25 14 C6.3 13 9 10.4 10.2 8.6 Q10.8 7 9.4 7 L7.55 7 L7.55 0.9 Q7.55 0 6.65 0 L3.85 0 Q2.95 0 2.95 0.9 L2.95 7 L1.1 7 Q-0.3 7 0.3 8.6 C1.5 10.4 4.2 13 5.25 14 Z" fill="#2fa32f"/></svg><i>30.67</i></td><td class="yl"><b>0.73</b><svg class="ar" viewBox="0 0 10.5 14"><path d="M5.25 0 C6.3 1 9 3.6 10.2 5.4 Q10.8 7 9.4 7 L7.55 7 L7.55 13.1 Q7.55 14 6.65 14 L3.85 14 Q2.95 14 2.95 13.1 L2.95 7 L1.1 7 Q-0.3 7 0.3 5.4 C1.5 3.6 4.2 1 5.25 0 Z" fill="#e8402c"/></svg><i>0.74</i></td><td class="bl"><b>-2.59</b><svg class="ar" viewBox="0 0 10.5 14"><path d="M5.25 0 C6.3 1 9 3.6 10.2 5.4 Q10.8 7 9.4 7 L7.55 7 L7.55 13.1 Q7.55 14 6.65 14 L3.85 14 Q2.95 14 2.95 13.1 L2.95 7 L1.1 7 Q-0.3 7 0.3 5.4 C1.5 3.6 4.2 1 5.25 0 Z" fill="#e8402c"/></svg><i>-5.28</i></td><td class="bl"><b>67.11</b><svg class="ar" viewBox="0 0 10.5 14"><path d="M5.25 14 C6.3 13 9 10.4 10.2 8.6 Q10.8 7 9.4 7 L7.55 7 L7.55 0.9 Q7.55 0 6.65 0 L3.85 0 Q2.95 0 2.95 0.9 L2.95 7 L1.1 7 Q-0.3 7 0.3 8.6 C1.5 10.4 4.2 13 5.25 14 Z" fill="#2fa32f"/></svg><i>-19.29</i></td><td class="bl"><b>64.08</b><svg class="ar" viewBox="0 0 10.5 14"><path d="M5.25 14 C6.3 13 9 10.4 10.2 8.6 Q10.8 7 9.4 7 L7.55 7 L7.55 0.9 Q7.55 0 6.65 0 L3.85 0 Q2.95 0 2.95 0.9 L2.95 7 L1.1 7 Q-0.3 7 0.3 8.6 C1.5 10.4 4.2 13 5.25 14 Z" fill="#2fa32f"/></svg><i>-21.08</i></td></tr>
<tr><td class="n">纺织服饰(100%)</td><td class="bl"><b>40.25</b><svg class="ar" viewBox="0 0 10.5 14"><path d="M5.25 0 C6.3 1 9 3.6 10.2 5.4 Q10.8 7 9.4 7 L7.55 7 L7.55 13.1 Q7.55 14 6.65 14 L3.85 14 Q2.95 14 2.95 13.1 L2.95 7 L1.1 7 Q-0.3 7 0.3 5.4 C1.5 3.6 4.2 1 5.25 0 Z" fill="#e8402c"/></svg><i>40.02</i></td><td class="yl"><b>8.04</b><svg class="ar" viewBox="0 0 10.5 14"><path d="M5.25 0 C6.3 1 9 3.6 10.2 5.4 Q10.8 7 9.4 7 L7.55 7 L7.55 13.1 Q7.55 14 6.65 14 L3.85 14 Q2.95 14 2.95 13.1 L2.95 7 L1.1 7 Q-0.3 7 0.3 5.4 C1.5 3.6 4.2 1 5.25 0 Z" fill="#e8402c"/></svg><i>8.35</i></td><td class="yl"><b>6.39</b><svg class="ar" viewBox="0 0 10.5 14"><path d="M5.25 0 C6.3 1 9 3.6 10.2 5.4 Q10.8 7 9.4 7 L7.55 7 L7.55 13.1 Q7.55 14 6.65 14 L3.85 14 Q2.95 14 2.95 13.1 L2.95 7 L1.1 7 Q-0.3 7 0.3 5.4 C1.5 3.6 4.2 1 5.25 0 Z" fill="#e8402c"/></svg><i>6.64</i></td><td class="bl"><b>0.81</b><svg class="ar" viewBox="0 0 10.5 14"><path d="M5.25 14 C6.3 13 9 10.4 10.2 8.6 Q10.8 7 9.4 7 L7.55 7 L7.55 0.9 Q7.55 0 6.65 0 L3.85 0 Q2.95 0 2.95 0.9 L2.95 7 L1.1 7 Q-0.3 7 0.3 8.6 C1.5 10.4 4.2 13 5.25 14 Z" fill="#2fa32f"/></svg><i>0.22</i></td><td class="bl"><b>2.65</b><svg class="ar" viewBox="0 0 10.5 14"><path d="M5.25 14 C6.3 13 9 10.4 10.2 8.6 Q10.8 7 9.4 7 L7.55 7 L7.55 0.9 Q7.55 0 6.65 0 L3.85 0 Q2.95 0 2.95 0.9 L2.95 7 L1.1 7 Q-0.3 7 0.3 8.6 C1.5 10.4 4.2 13 5.25 14 Z" fill="#2fa32f"/></svg><i>0.80</i></td><td class="yl"><b>1.77</b><svg class="ar" viewBox="0 0 10.5 14"><path d="M5.25 0 C6.3 1 9 3.6 10.2 5.4 Q10.8 7 9.4 7 L7.55 7 L7.55 13.1 Q7.55 14 6.65 14 L3.85 14 Q2.95 14 2.95 13.1 L2.95 7 L1.1 7 Q-0.3 7 0.3 5.4 C1.5 3.6 4.2 1 5.25 0 Z" fill="#e8402c"/></svg><i>2.38</i></td><td class="bl"><b>55.79</b><svg class="ar" viewBox="0 0 10.5 14"><path d="M5.25 14 C6.3 13 9 10.4 10.2 8.6 Q10.8 7 9.4 7 L7.55 7 L7.55 0.9 Q7.55 0 6.65 0 L3.85 0 Q2.95 0 2.95 0.9 L2.95 7 L1.1 7 Q-0.3 7 0.3 8.6 C1.5 10.4 4.2 13 5.25 14 Z" fill="#2fa32f"/></svg><i>34.12</i></td><td class="yl"><b>1.13</b><svg class="ar" viewBox="0 0 10.5 14"><path d="M5.25 0 C6.3 1 9 3.6 10.2 5.4 Q10.8 7 9.4 7 L7.55 7 L7.55 13.1 Q7.55 14 6.65 14 L3.85 14 Q2.95 14 2.95 13.1 L2.95 7 L1.1 7 Q-0.3 7 0.3 5.4 C1.5 3.6 4.2 1 5.25 0 Z" fill="#e8402c"/></svg><i>1.21</i></td><td class="bl"><b>21.97</b><svg class="ar" viewBox="0 0 10.5 14"><path d="M5.25 14 C6.3 13 9 10.4 10.2 8.6 Q10.8 7 9.4 7 L7.55 7 L7.55 0.9 Q7.55 0 6.65 0 L3.85 0 Q2.95 0 2.95 0.9 L2.95 7 L1.1 7 Q-0.3 7 0.3 8.6 C1.5 10.4 4.2 13 5.25 14 Z" fill="#2fa32f"/></svg><i>6.50</i></td><td class="bl"><b>336.03</b><svg class="ar" viewBox="0 0 10.5 14"><path d="M5.25 14 C6.3 13 9 10.4 10.2 8.6 Q10.8 7 9.4 7 L7.55 7 L7.55 0.9 Q7.55 0 6.65 0 L3.85 0 Q2.95 0 2.95 0.9 L2.95 7 L1.1 7 Q-0.3 7 0.3 8.6 C1.5 10.4 4.2 13 5.25 14 Z" fill="#2fa32f"/></svg><i>6.93</i></td><td class="bl"><b>336.60</b><svg class="ar" viewBox="0 0 10.5 14"><path d="M5.25 14 C6.3 13 9 10.4 10.2 8.6 Q10.8 7 9.4 7 L7.55 7 L7.55 0.9 Q7.55 0 6.65 0 L3.85 0 Q2.95 0 2.95 0.9 L2.95 7 L1.1 7 Q-0.3 7 0.3 8.6 C1.5 10.4 4.2 13 5.25 14 Z" fill="#2fa32f"/></svg><i>7.30</i></td></tr>
<tr><td class="n">国防军工(100%)</td><td class="bl"><b>49.53</b><svg class="ar" viewBox="0 0 10.5 14"><path d="M5.25 0 C6.3 1 9 3.6 10.2 5.4 Q10.8 7 9.4 7 L7.55 7 L7.55 13.1 Q7.55 14 6.65 14 L3.85 14 Q2.95 14 2.95 13.1 L2.95 7 L1.1 7 Q-0.3 7 0.3 5.4 C1.5 3.6 4.2 1 5.25 0 Z" fill="#e8402c"/></svg><i>49.00</i></td><td class="yl"><b>6.21</b><svg class="ar" viewBox="0 0 10.5 14"><path d="M5.25 0 C6.3 1 9 3.6 10.2 5.4 Q10.8 7 9.4 7 L7.55 7 L7.55 13.1 Q7.55 14 6.65 14 L3.85 14 Q2.95 14 2.95 13.1 L2.95 7 L1.1 7 Q-0.3 7 0.3 5.4 C1.5 3.6 4.2 1 5.25 0 Z" fill="#e8402c"/></svg><i>7.19</i></td><td class="yl"><b>5.55</b><svg class="ar" viewBox="0 0 10.5 14"><path d="M5.25 0 C6.3 1 9 3.6 10.2 5.4 Q10.8 7 9.4 7 L7.55 7 L7.55 13.1 Q7.55 14 6.65 14 L3.85 14 Q2.95 14 2.95 13.1 L2.95 7 L1.1 7 Q-0.3 7 0.3 5.4 C1.5 3.6 4.2 1 5.25 0 Z" fill="#e8402c"/></svg><i>6.20</i></td><td class="bl"><b>0.40</b><svg class="ar" viewBox="0 0 10.5 14"><path d="M5.25 14 C6.3 13 9 10.4 10.2 8.6 Q10.8 7 9.4 7 L7.55 7 L7.55 0.9 Q7.55 0 6.65 0 L3.85 0 Q2.95 0 2.95 0.9 L2.95 7 L1.1 7 Q-0.3 7 0.3 8.6 C1.5 10.4 4.2 13 5.25 14 Z" fill="#2fa32f"/></svg><i>0.07</i></td><td class="bl"><b>1.73</b><svg class="ar" viewBox="0 0 10.5 14"><path d="M5.25 14 C6.3 13 9 10.4 10.2 8.6 Q10.8 7 9.4 7 L7.55 7 L7.55 0.9 Q7.55 0 6.65 0 L3.85 0 Q2.95 0 2.95 0.9 L2.95 7 L1.1 7 Q-0.3 7 0.3 8.6 C1.5 10.4 4.2 13 5.25 14 Z" fill="#2fa32f"/></svg><i>0.31</i></td><td class="yl"><b>0.32</b><svg class="ar" viewBox="0 0 10.5 14"><path d="M5.25 0 C6.3 1 9 3.6 10.2 5.4 Q10.8 7 9.4 7 L7.55 7 L7.55 13.1 Q7.55 14 6.65 14 L3.85 14 Q2.95 14 2.95 13.1 L2.95 7 L1.1 7 Q-0.3 7 0.3 5.4 C1.5 3.6 4.2 1 5.25 0 Z" fill="#e8402c"/></svg><i>0.92</i></td><td class="yl w"><div class="l1"><b>-1646.08</b><svg class="ar" viewBox="0 0 10.5 14"><path d="M5.25 0 C6.3 1 9 3.6 10.2 5.4 Q10.8 7 9.4 7 L7.55 7 L7.55 13.1 Q7.55 14 6.65 14 L3.85 14 Q2.95 14 2.95 13.1 L2.95 7 L1.1 7 Q-0.3 7 0.3 5.4 C1.5 3.6 4.2 1 5.25 0 Z" fill="#e8402c"/></svg></div><div class="l2"><i>92.19</i></div></td><td class="bl"><b>1.25</b><svg class="ar" viewBox="0 0 10.5 14"><path d="M5.25 14 C6.3 13 9 10.4 10.2 8.6 Q10.8 7 9.4 7 L7.55 7 L7.55 0.9 Q7.55 0 6.65 0 L3.85 0 Q2.95 0 2.95 0.9 L2.95 7 L1.1 7 Q-0.3 7 0.3 8.6 C1.5 10.4 4.2 13 5.25 14 Z" fill="#2fa32f"/></svg><i>1.24</i></td><td class="yl"><b>0.41</b><svg class="ar" viewBox="0 0 10.5 14"><path d="M5.25 0 C6.3 1 9 3.6 10.2 5.4 Q10.8 7 9.4 7 L7.55 7 L7.55 13.1 Q7.55 14 6.65 14 L3.85 14 Q2.95 14 2.95 13.1 L2.95 7 L1.1 7 Q-0.3 7 0.3 5.4 C1.5 3.6 4.2 1 5.25 0 Z" fill="#e8402c"/></svg><i>4.43</i></td><td class="yl"><b>-58.31</b><svg class="ar" viewBox="0 0 10.5 14"><path d="M5.25 0 C6.3 1 9 3.6 10.2 5.4 Q10.8 7 9.4 7 L7.55 7 L7.55 13.1 Q7.55 14 6.65 14 L3.85 14 Q2.95 14 2.95 13.1 L2.95 7 L1.1 7 Q-0.3 7 0.3 5.4 C1.5 3.6 4.2 1 5.25 0 Z" fill="#e8402c"/></svg><i>-14.00</i></td><td class="yl w"><div class="l1"><b>-30.41</b><svg class="ar" viewBox="0 0 10.5 14"><path d="M5.25 0 C6.3 1 9 3.6 10.2 5.4 Q10.8 7 9.4 7 L7.55 7 L7.55 13.1 Q7.55 14 6.65 14 L3.85 14 Q2.95 14 2.95 13.1 L2.95 7 L1.1 7 Q-0.3 7 0.3 5.4 C1.5 3.6 4.2 1 5.25 0 Z" fill="#e8402c"/></svg></div><div class="l2"><i>-12.99</i></div></td></tr>
<tr><td class="n">建筑装饰(100%)</td><td class="yl"><b>75.54</b><svg class="ar" viewBox="0 0 10.5 14"><path d="M5.25 0 C6.3 1 9 3.6 10.2 5.4 Q10.8 7 9.4 7 L7.55 7 L7.55 13.1 Q7.55 14 6.65 14 L3.85 14 Q2.95 14 2.95 13.1 L2.95 7 L1.1 7 Q-0.3 7 0.3 5.4 C1.5 3.6 4.2 1 5.25 0 Z" fill="#e8402c"/></svg><i>75.61</i></td><td class="yl"><b>3.49</b><svg class="ar" viewBox="0 0 10.5 14"><path d="M5.25 0 C6.3 1 9 3.6 10.2 5.4 Q10.8 7 9.4 7 L7.55 7 L7.55 13.1 Q7.55 14 6.65 14 L3.85 14 Q2.95 14 2.95 13.1 L2.95 7 L1.1 7 Q-0.3 7 0.3 5.4 C1.5 3.6 4.2 1 5.25 0 Z" fill="#e8402c"/></svg><i>3.60</i></td><td class="yl"><b>2.77</b><svg class="ar" viewBox="0 0 10.5 14"><path d="M5.25 0 C6.3 1 9 3.6 10.2 5.4 Q10.8 7 9.4 7 L7.55 7 L7.55 13.1 Q7.55 14 6.65 14 L3.85 14 Q2.95 14 2.95 13.1 L2.95 7 L1.1 7 Q-0.3 7 0.3 5.4 C1.5 3.6 4.2 1 5.25 0 Z" fill="#e8402c"/></svg><i>2.86</i></td><td class="bl"><b>0.67</b><svg class="ar" viewBox="0 0 10.5 14"><path d="M5.25 14 C6.3 13 9 10.4 10.2 8.6 Q10.8 7 9.4 7 L7.55 7 L7.55 0.9 Q7.55 0 6.65 0 L3.85 0 Q2.95 0 2.95 0.9 L2.95 7 L1.1 7 Q-0.3 7 0.3 8.6 C1.5 10.4 4.2 13 5.25 14 Z" fill="#2fa32f"/></svg><i>0.14</i></td><td class="bl"><b>4.65</b><svg class="ar" viewBox="0 0 10.5 14"><path d="M5.25 14 C6.3 13 9 10.4 10.2 8.6 Q10.8 7 9.4 7 L7.55 7 L7.55 0.9 Q7.55 0 6.65 0 L3.85 0 Q2.95 0 2.95 0.9 L2.95 7 L1.1 7 Q-0.3 7 0.3 8.6 C1.5 10.4 4.2 13 5.25 14 Z" fill="#2fa32f"/></svg><i>1.03</i></td><td class="yl"><b>1.89</b><svg class="ar" viewBox="0 0 10.5 14"><path d="M5.25 0 C6.3 1 9 3.6 10.2 5.4 Q10.8 7 9.4 7 L7.55 7 L7.55 13.1 Q7.55 14 6.65 14 L3.85 14 Q2.95 14 2.95 13.1 L2.95 7 L1.1 7 Q-0.3 7 0.3 5.4 C1.5 3.6 4.2 1 5.25 0 Z" fill="#e8402c"/></svg><i>1.99</i></td><td class="yl"><b>1.70</b><svg class="ar" viewBox="0 0 10.5 14"><path d="M5.25 0 C6.3 1 9 3.6 10.2 5.4 Q10.8 7 9.4 7 L7.55 7 L7.55 13.1 Q7.55 14 6.65 14 L3.85 14 Q2.95 14 2.95 13.1 L2.95 7 L1.1 7 Q-0.3 7 0.3 5.4 C1.5 3.6 4.2 1 5.25 0 Z" fill="#e8402c"/></svg><i>3.57</i></td><td class="yl"><b>0.86</b><svg class="ar" viewBox="0 0 10.5 14"><path d="M5.25 0 C6.3 1 9 3.6 10.2 5.4 Q10.8 7 9.4 7 L7.55 7 L7.55 13.1 Q7.55 14 6.65 14 L3.85 14 Q2.95 14 2.95 13.1 L2.95 7 L1.1 7 Q-0.3 7 0.3 5.4 C1.5 3.6 4.2 1 5.25 0 Z" fill="#e8402c"/></svg><i>0.87</i></td><td class="bl"><b>7.24</b><svg class="ar" viewBox="0 0 10.5 14"><path d="M5.25 14 C6.3 13 9 10.4 10.2 8.6 Q10.8 7 9.4 7 L7.55 7 L7.55 0.9 Q7.55 0 6.65 0 L3.85 0 Q2.95 0 2.95 0.9 L2.95 7 L1.1 7 Q-0.3 7 0.3 8.6 C1.5 10.4 4.2 13 5.25 14 Z" fill="#2fa32f"/></svg><i>1.23</i></td><td class="bl"><b>39.83</b><svg class="ar" viewBox="0 0 10.5 14"><path d="M5.25 14 C6.3 13 9 10.4 10.2 8.6 Q10.8 7 9.4 7 L7.55 7 L7.55 0.9 Q7.55 0 6.65 0 L3.85 0 Q2.95 0 2.95 0.9 L2.95 7 L1.1 7 Q-0.3 7 0.3 8.6 C1.5 10.4 4.2 13 5.25 14 Z" fill="#2fa32f"/></svg><i>-3.07</i></td><td class="bl"><b>48.27</b><svg class="ar" viewBox="0 0 10.5 14"><path d="M5.25 14 C6.3 13 9 10.4 10.2 8.6 Q10.8 7 9.4 7 L7.55 7 L7.55 0.9 Q7.55 0 6.65 0 L3.85 0 Q2.95 0 2.95 0.9 L2.95 7 L1.1 7 Q-0.3 7 0.3 8.6 C1.5 10.4 4.2 13 5.25 14 Z" fill="#2fa32f"/></svg><i>-2.46</i></td></tr>
<tr><td class="n">家用电器(100%)</td><td class="bl"><b>59.79</b><svg class="ar" viewBox="0 0 10.5 14"><path d="M5.25 14 C6.3 13 9 10.4 10.2 8.6 Q10.8 7 9.4 7 L7.55 7 L7.55 0.9 Q7.55 0 6.65 0 L3.85 0 Q2.95 0 2.95 0.9 L2.95 7 L1.1 7 Q-0.3 7 0.3 8.6 C1.5 10.4 4.2 13 5.25 14 Z" fill="#2fa32f"/></svg><i>59.24</i></td><td class="bl"><b>8.98</b><svg class="ar" viewBox="0 0 10.5 14"><path d="M5.25 0 C6.3 1 9 3.6 10.2 5.4 Q10.8 7 9.4 7 L7.55 7 L7.55 13.1 Q7.55 14 6.65 14 L3.85 14 Q2.95 14 2.95 13.1 L2.95 7 L1.1 7 Q-0.3 7 0.3 5.4 C1.5 3.6 4.2 1 5.25 0 Z" fill="#e8402c"/></svg><i>8.63</i></td><td class="bl"><b>7.66</b><svg class="ar" viewBox="0 0 10.5 14"><path d="M5.25 0 C6.3 1 9 3.6 10.2 5.4 Q10.8 7 9.4 7 L7.55 7 L7.55 13.1 Q7.55 14 6.65 14 L3.85 14 Q2.95 14 2.95 13.1 L2.95 7 L1.1 7 Q-0.3 7 0.3 5.4 C1.5 3.6 4.2 1 5.25 0 Z" fill="#e8402c"/></svg><i>7.39</i></td><td class="bl"><b>0.85</b><svg class="ar" viewBox="0 0 10.5 14"><path d="M5.25 14 C6.3 13 9 10.4 10.2 8.6 Q10.8 7 9.4 7 L7.55 7 L7.55 0.9 Q7.55 0 6.65 0 L3.85 0 Q2.95 0 2.95 0.9 L2.95 7 L1.1 7 Q-0.3 7 0.3 8.6 C1.5 10.4 4.2 13 5.25 14 Z" fill="#2fa32f"/></svg><i>0.20</i></td><td class="bl"><b>5.09</b><svg class="ar" viewBox="0 0 10.5 14"><path d="M5.25 14 C6.3 13 9 10.4 10.2 8.6 Q10.8 7 9.4 7 L7.55 7 L7.55 0.9 Q7.55 0 6.65 0 L3.85 0 Q2.95 0 2.95 0.9 L2.95 7 L1.1 7 Q-0.3 7 0.3 8.6 C1.5 10.4 4.2 13 5.25 14 Z" fill="#2fa32f"/></svg><i>1.29</i></td><td class="yl"><b>3.49</b><svg class="ar" viewBox="0 0 10.5 14"><path d="M5.25 0 C6.3 1 9 3.6 10.2 5.4 Q10.8 7 9.4 7 L7.55 7 L7.55 13.1 Q7.55 14 6.65 14 L3.85 14 Q2.95 14 2.95 13.1 L2.95 7 L1.1 7 Q-0.3 7 0.3 5.4 C1.5 3.6 4.2 1 5.25 0 Z" fill="#e8402c"/></svg><i>3.66</i></td><td class="bl"><b>31.78</b><svg class="ar" viewBox="0 0 10.5 14"><path d="M5.25 14 C6.3 13 9 10.4 10.2 8.6 Q10.8 7 9.4 7 L7.55 7 L7.55 0.9 Q7.55 0 6.65 0 L3.85 0 Q2.95 0 2.95 0.9 L2.95 7 L1.1 7 Q-0.3 7 0.3 8.6 C1.5 10.4 4.2 13 5.25 14 Z" fill="#2fa32f"/></svg><i>21.90</i></td><td class="yl"><b>1.01</b><svg class="ar" viewBox="0 0 10.5 14"><path d="M5.25 0 C6.3 1 9 3.6 10.2 5.4 Q10.8 7 9.4 7 L7.55 7 L7.55 13.1 Q7.55 14 6.65 14 L3.85 14 Q2.95 14 2.95 13.1 L2.95 7 L1.1 7 Q-0.3 7 0.3 5.4 C1.5 3.6 4.2 1 5.25 0 Z" fill="#e8402c"/></svg><i>1.03</i></td><td class="bl"><b>7.87</b><svg class="ar" viewBox="0 0 10.5 14"><path d="M5.25 14 C6.3 13 9 10.4 10.2 8.6 Q10.8 7 9.4 7 L7.55 7 L7.55 0.9 Q7.55 0 6.65 0 L3.85 0 Q2.95 0 2.95 0.9 L2.95 7 L1.1 7 Q-0.3 7 0.3 8.6 C1.5 10.4 4.2 13 5.25 14 Z" fill="#2fa32f"/></svg><i>7.73</i></td><td class="bl"><b>16.40</b><svg class="ar" viewBox="0 0 10.5 14"><path d="M5.25 14 C6.3 13 9 10.4 10.2 8.6 Q10.8 7 9.4 7 L7.55 7 L7.55 0.9 Q7.55 0 6.65 0 L3.85 0 Q2.95 0 2.95 0.9 L2.95 7 L1.1 7 Q-0.3 7 0.3 8.6 C1.5 10.4 4.2 13 5.25 14 Z" fill="#2fa32f"/></svg><i>11.44</i></td><td class="bl"><b>19.44</b><svg class="ar" viewBox="0 0 10.5 14"><path d="M5.25 14 C6.3 13 9 10.4 10.2 8.6 Q10.8 7 9.4 7 L7.55 7 L7.55 0.9 Q7.55 0 6.65 0 L3.85 0 Q2.95 0 2.95 0.9 L2.95 7 L1.1 7 Q-0.3 7 0.3 8.6 C1.5 10.4 4.2 13 5.25 14 Z" fill="#2fa32f"/></svg><i>10.04</i></td></tr>
<tr><td class="n">汽车(100%)</td><td class="bl"><b>61.08</b><svg class="ar" viewBox="0 0 10.5 14"><path d="M5.25 14 C6.3 13 9 10.4 10.2 8.6 Q10.8 7 9.4 7 L7.55 7 L7.55 0.9 Q7.55 0 6.65 0 L3.85 0 Q2.95 0 2.95 0.9 L2.95 7 L1.1 7 Q-0.3 7 0.3 8.6 C1.5 10.4 4.2 13 5.25 14 Z" fill="#2fa32f"/></svg><i>60.09</i></td><td class="yl"><b>4.39</b><svg class="ar" viewBox="0 0 10.5 14"><path d="M5.25 0 C6.3 1 9 3.6 10.2 5.4 Q10.8 7 9.4 7 L7.55 7 L7.55 13.1 Q7.55 14 6.65 14 L3.85 14 Q2.95 14 2.95 13.1 L2.95 7 L1.1 7 Q-0.3 7 0.3 5.4 C1.5 3.6 4.2 1 5.25 0 Z" fill="#e8402c"/></svg><i>4.80</i></td><td class="yl"><b>3.70</b><svg class="ar" viewBox="0 0 10.5 14"><path d="M5.25 0 C6.3 1 9 3.6 10.2 5.4 Q10.8 7 9.4 7 L7.55 7 L7.55 13.1 Q7.55 14 6.65 14 L3.85 14 Q2.95 14 2.95 13.1 L2.95 7 L1.1 7 Q-0.3 7 0.3 5.4 C1.5 3.6 4.2 1 5.25 0 Z" fill="#e8402c"/></svg><i>4.17</i></td><td class="bl"><b>0.82</b><svg class="ar" viewBox="0 0 10.5 14"><path d="M5.25 14 C6.3 13 9 10.4 10.2 8.6 Q10.8 7 9.4 7 L7.55 7 L7.55 0.9 Q7.55 0 6.65 0 L3.85 0 Q2.95 0 2.95 0.9 L2.95 7 L1.1 7 Q-0.3 7 0.3 8.6 C1.5 10.4 4.2 13 5.25 14 Z" fill="#2fa32f"/></svg><i>0.18</i></td><td class="bl"><b>5.95</b><svg class="ar" viewBox="0 0 10.5 14"><path d="M5.25 14 C6.3 13 9 10.4 10.2 8.6 Q10.8 7 9.4 7 L7.55 7 L7.55 0.9 Q7.55 0 6.65 0 L3.85 0 Q2.95 0 2.95 0.9 L2.95 7 L1.1 7 Q-0.3 7 0.3 8.6 C1.5 10.4 4.2 13 5.25 14 Z" fill="#2fa32f"/></svg><i>1.28</i></td><td class="yl"><b>1.51</b><svg class="ar" viewBox="0 0 10.5 14"><path d="M5.25 0 C6.3 1 9 3.6 10.2 5.4 Q10.8 7 9.4 7 L7.55 7 L7.55 13.1 Q7.55 14 6.65 14 L3.85 14 Q2.95 14 2.95 13.1 L2.95 7 L1.1 7 Q-0.3 7 0.3 5.4 C1.5 3.6 4.2 1 5.25 0 Z" fill="#e8402c"/></svg><i>1.95</i></td><td class="bl"><b>49.85</b><svg class="ar" viewBox="0 0 10.5 14"><path d="M5.25 14 C6.3 13 9 10.4 10.2 8.6 Q10.8 7 9.4 7 L7.55 7 L7.55 0.9 Q7.55 0 6.65 0 L3.85 0 Q2.95 0 2.95 0.9 L2.95 7 L1.1 7 Q-0.3 7 0.3 8.6 C1.5 10.4 4.2 13 5.25 14 Z" fill="#2fa32f"/></svg><i>21.28</i></td><td class="yl"><b>0.91</b><svg class="ar" viewBox="0 0 10.5 14"><path d="M5.25 0 C6.3 1 9 3.6 10.2 5.4 Q10.8 7 9.4 7 L7.55 7 L7.55 13.1 Q7.55 14 6.65 14 L3.85 14 Q2.95 14 2.95 13.1 L2.95 7 L1.1 7 Q-0.3 7 0.3 5.4 C1.5 3.6 4.2 1 5.25 0 Z" fill="#e8402c"/></svg><i>0.92</i></td><td class="bl"><b>12.76</b><svg class="ar" viewBox="0 0 10.5 14"><path d="M5.25 14 C6.3 13 9 10.4 10.2 8.6 Q10.8 7 9.4 7 L7.55 7 L7.55 0.9 Q7.55 0 6.65 0 L3.85 0 Q2.95 0 2.95 0.9 L2.95 7 L1.1 7 Q-0.3 7 0.3 8.6 C1.5 10.4 4.2 13 5.25 14 Z" fill="#2fa32f"/></svg><i>7.58</i></td><td class="bl"><b>138.09</b><svg class="ar" viewBox="0 0 10.5 14"><path d="M5.25 14 C6.3 13 9 10.4 10.2 8.6 Q10.8 7 9.4 7 L7.55 7 L7.55 0.9 Q7.55 0 6.65 0 L3.85 0 Q2.95 0 2.95 0.9 L2.95 7 L1.1 7 Q-0.3 7 0.3 8.6 C1.5 10.4 4.2 13 5.25 14 Z" fill="#2fa32f"/></svg><i>13.12</i></td><td class="bl"><b>204.57</b><svg class="ar" viewBox="0 0 10.5 14"><path d="M5.25 14 C6.3 13 9 10.4 10.2 8.6 Q10.8 7 9.4 7 L7.55 7 L7.55 0.9 Q7.55 0 6.65 0 L3.85 0 Q2.95 0 2.95 0.9 L2.95 7 L1.1 7 Q-0.3 7 0.3 8.6 C1.5 10.4 4.2 13 5.25 14 Z" fill="#2fa32f"/></svg><i>16.72</i></td></tr>
<tr><td class="n">银行(100%)</td><td class="yl"><b>92.01</b><svg class="ar" viewBox="0 0 10.5 14"><path d="M5.25 0 C6.3 1 9 3.6 10.2 5.4 Q10.8 7 9.4 7 L7.55 7 L7.55 13.1 Q7.55 14 6.65 14 L3.85 14 Q2.95 14 2.95 13.1 L2.95 7 L1.1 7 Q-0.3 7 0.3 5.4 C1.5 3.6 4.2 1 5.25 0 Z" fill="#e8402c"/></svg><i>92.08</i></td><td class="yl"><b>43.21</b><svg class="ar" viewBox="0 0 10.5 14"><path d="M5.25 0 C6.3 1 9 3.6 10.2 5.4 Q10.8 7 9.4 7 L7.55 7 L7.55 13.1 Q7.55 14 6.65 14 L3.85 14 Q2.95 14 2.95 13.1 L2.95 7 L1.1 7 Q-0.3 7 0.3 5.4 C1.5 3.6 4.2 1 5.25 0 Z" fill="#e8402c"/></svg><i>45.48</i></td><td class="yl"><b>37.55</b><svg class="ar" viewBox="0 0 10.5 14"><path d="M5.25 0 C6.3 1 9 3.6 10.2 5.4 Q10.8 7 9.4 7 L7.55 7 L7.55 13.1 Q7.55 14 6.65 14 L3.85 14 Q2.95 14 2.95 13.1 L2.95 7 L1.1 7 Q-0.3 7 0.3 5.4 C1.5 3.6 4.2 1 5.25 0 Z" fill="#e8402c"/></svg><i>39.26</i></td><td class="bl"><b>0.02</b><svg class="ar" viewBox="0 0 10.5 14"><path d="M5.25 14 C6.3 13 9 10.4 10.2 8.6 Q10.8 7 9.4 7 L7.55 7 L7.55 0.9 Q7.55 0 6.65 0 L3.85 0 Q2.95 0 2.95 0.9 L2.95 7 L1.1 7 Q-0.3 7 0.3 8.6 C1.5 10.4 4.2 13 5.25 14 Z" fill="#2fa32f"/></svg><i>0.01</i></td><td class="yl"><b>0.00</b><svg class="ar rt" viewBox="0 0 14 10"><path d="M0.5 3.8 L8 3.8 L8 1 L13.6 5 L8 9 L8 6.2 L0.5 6.2 Z" fill="#ffffff"/></svg><i>0.00</i></td><td class="yl"><b>2.07</b><svg class="ar" viewBox="0 0 10.5 14"><path d="M5.25 0 C6.3 1 9 3.6 10.2 5.4 Q10.8 7 9.4 7 L7.55 7 L7.55 13.1 Q7.55 14 6.65 14 L3.85 14 Q2.95 14 2.95 13.1 L2.95 7 L1.1 7 Q-0.3 7 0.3 5.4 C1.5 3.6 4.2 1 5.25 0 Z" fill="#e8402c"/></svg><i>2.50</i></td><td class="yl"><b>0.00</b><svg class="ar rt" viewBox="0 0 14 10"><path d="M0.5 3.8 L8 3.8 L8 1 L13.6 5 L8 9 L8 6.2 L0.5 6.2 Z" fill="#ffffff"/></svg><i>0.00</i></td><td class="yl"><b>0.00</b><svg class="ar rt" viewBox="0 0 14 10"><path d="M0.5 3.8 L8 3.8 L8 1 L13.6 5 L8 9 L8 6.2 L0.5 6.2 Z" fill="#ffffff"/></svg><i>0.00</i></td><td class="bl"><b>-0.83</b><svg class="ar" viewBox="0 0 10.5 14"><path d="M5.25 14 C6.3 13 9 10.4 10.2 8.6 Q10.8 7 9.4 7 L7.55 7 L7.55 0.9 Q7.55 0 6.65 0 L3.85 0 Q2.95 0 2.95 0.9 L2.95 7 L1.1 7 Q-0.3 7 0.3 8.6 C1.5 10.4 4.2 13 5.25 14 Z" fill="#2fa32f"/></svg><i>-1.73</i></td><td class="yl"><b>-2.44</b><svg class="ar" viewBox="0 0 10.5 14"><path d="M5.25 0 C6.3 1 9 3.6 10.2 5.4 Q10.8 7 9.4 7 L7.55 7 L7.55 13.1 Q7.55 14 6.65 14 L3.85 14 Q2.95 14 2.95 13.1 L2.95 7 L1.1 7 Q-0.3 7 0.3 5.4 C1.5 3.6 4.2 1 5.25 0 Z" fill="#e8402c"/></svg><i>-0.81</i></td><td class="yl"><b>-2.47</b><svg class="ar" viewBox="0 0 10.5 14"><path d="M5.25 0 C6.3 1 9 3.6 10.2 5.4 Q10.8 7 9.4 7 L7.55 7 L7.55 13.1 Q7.55 14 6.65 14 L3.85 14 Q2.95 14 2.95 13.1 L2.95 7 L1.1 7 Q-0.3 7 0.3 5.4 C1.5 3.6 4.2 1 5.25 0 Z" fill="#e8402c"/></svg><i>-0.61</i></td></tr>
<tr class="gs"><td class="g" rowspan="2">金融</td><td class="n">非银金融(100%)</td><td class="yl"><b>85.01</b><svg class="ar" viewBox="0 0 10.5 14"><path d="M5.25 14 C6.3 13 9 10.4 10.2 8.6 Q10.8 7 9.4 7 L7.55 7 L7.55 0.9 Q7.55 0 6.65 0 L3.85 0 Q2.95 0 2.95 0.9 L2.95 7 L1.1 7 Q-0.3 7 0.3 8.6 C1.5 10.4 4.2 13 5.25 14 Z" fill="#2fa32f"/></svg><i>85.06</i></td><td class="yl"><b>11.76</b><svg class="ar" viewBox="0 0 10.5 14"><path d="M5.25 0 C6.3 1 9 3.6 10.2 5.4 Q10.8 7 9.4 7 L7.55 7 L7.55 13.1 Q7.55 14 6.65 14 L3.85 14 Q2.95 14 2.95 13.1 L2.95 7 L1.1 7 Q-0.3 7 0.3 5.4 C1.5 3.6 4.2 1 5.25 0 Z" fill="#e8402c"/></svg><i>20.07</i></td><td class="yl"><b>11.09</b><svg class="ar" viewBox="0 0 10.5 14"><path d="M5.25 0 C6.3 1 9 3.6 10.2 5.4 Q10.8 7 9.4 7 L7.55 7 L7.55 13.1 Q7.55 14 6.65 14 L3.85 14 Q2.95 14 2.95 13.1 L2.95 7 L1.1 7 Q-0.3 7 0.3 5.4 C1.5 3.6 4.2 1 5.25 0 Z" fill="#e8402c"/></svg><i>17.63</i></td><td class="bl"><b>0.09</b><svg class="ar" viewBox="0 0 10.5 14"><path d="M5.25 14 C6.3 13 9 10.4 10.2 8.6 Q10.8 7 9.4 7 L7.55 7 L7.55 0.9 Q7.55 0 6.65 0 L3.85 0 Q2.95 0 2.95 0.9 L2.95 7 L1.1 7 Q-0.3 7 0.3 8.6 C1.5 10.4 4.2 13 5.25 14 Z" fill="#2fa32f"/></svg><i>0.02</i></td><td class="bl"><b>11.94</b><svg class="ar" viewBox="0 0 10.5 14"><path d="M5.25 14 C6.3 13 9 10.4 10.2 8.6 Q10.8 7 9.4 7 L7.55 7 L7.55 0.9 Q7.55 0 6.65 0 L3.85 0 Q2.95 0 2.95 0.9 L2.95 7 L1.1 7 Q-0.3 7 0.3 8.6 C1.5 10.4 4.2 13 5.25 14 Z" fill="#2fa32f"/></svg><i>2.69</i></td><td class="yl"><b>0.61</b><svg class="ar" viewBox="0 0 10.5 14"><path d="M5.25 0 C6.3 1 9 3.6 10.2 5.4 Q10.8 7 9.4 7 L7.55 7 L7.55 13.1 Q7.55 14 6.65 14 L3.85 14 Q2.95 14 2.95 13.1 L2.95 7 L1.1 7 Q-0.3 7 0.3 5.4 C1.5 3.6 4.2 1 5.25 0 Z" fill="#e8402c"/></svg><i>2.35</i></td><td class="bl"><b>46.15</b><svg class="ar" viewBox="0 0 10.5 14"><path d="M5.25 14 C6.3 13 9 10.4 10.2 8.6 Q10.8 7 9.4 7 L7.55 7 L7.55 0.9 Q7.55 0 6.65 0 L3.85 0 Q2.95 0 2.95 0.9 L2.95 7 L1.1 7 Q-0.3 7 0.3 8.6 C1.5 10.4 4.2 13 5.25 14 Z" fill="#2fa32f"/></svg><i>26.39</i></td><td class="bl"><b>1.03</b><svg class="ar" viewBox="0 0 10.5 14"><path d="M5.25 0 C6.3 1 9 3.6 10.2 5.4 Q10.8 7 9.4 7 L7.55 7 L7.55 13.1 Q7.55 14 6.65 14 L3.85 14 Q2.95 14 2.95 13.1 L2.95 7 L1.1 7 Q-0.3 7 0.3 5.4 C1.5 3.6 4.2 1 5.25 0 Z" fill="#e8402c"/></svg><i>1.03</i></td><td class="yl"><b>-3.47</b><svg class="ar" viewBox="0 0 10.5 14"><path d="M5.25 14 C6.3 13 9 10.4 10.2 8.6 Q10.8 7 9.4 7 L7.55 7 L7.55 0.9 Q7.55 0 6.65 0 L3.85 0 Q2.95 0 2.95 0.9 L2.95 7 L1.1 7 Q-0.3 7 0.3 8.6 C1.5 10.4 4.2 13 5.25 14 Z" fill="#2fa32f"/></svg><i>-3.15</i></td><td class="yl"><b>-47.04</b><svg class="ar" viewBox="0 0 10.5 14"><path d="M5.25 0 C6.3 1 9 3.6 10.2 5.4 Q10.8 7 9.4 7 L7.55 7 L7.55 13.1 Q7.55 14 6.65 14 L3.85 14 Q2.95 14 2.95 13.1 L2.95 7 L1.1 7 Q-0.3 7 0.3 5.4 C1.5 3.6 4.2 1 5.25 0 Z" fill="#e8402c"/></svg><i>-15.57</i></td><td class="yl w"><div class="l1"><b>-51.07</b><svg class="ar" viewBox="0 0 10.5 14"><path d="M5.25 0 C6.3 1 9 3.6 10.2 5.4 Q10.8 7 9.4 7 L7.55 7 L7.55 13.1 Q7.55 14 6.65 14 L3.85 14 Q2.95 14 2.95 13.1 L2.95 7 L1.1 7 Q-0.3 7 0.3 5.4 C1.5 3.6 4.2 1 5.25 0 Z" fill="#e8402c"/></svg></div><div class="l2"><i>-16.99</i></div></td></tr>
<tr><td class="n">通信(100%)</td><td class="bl"><b>41.19</b><svg class="ar" viewBox="0 0 10.5 14"><path d="M5.25 0 C6.3 1 9 3.6 10.2 5.4 Q10.8 7 9.4 7 L7.55 7 L7.55 13.1 Q7.55 14 6.65 14 L3.85 14 Q2.95 14 2.95 13.1 L2.95 7 L1.1 7 Q-0.3 7 0.3 5.4 C1.5 3.6 4.2 1 5.25 0 Z" fill="#e8402c"/></svg><i>40.83</i></td><td class="bl"><b>10.73</b><svg class="ar" viewBox="0 0 10.5 14"><path d="M5.25 0 C6.3 1 9 3.6 10.2 5.4 Q10.8 7 9.4 7 L7.55 7 L7.55 13.1 Q7.55 14 6.65 14 L3.85 14 Q2.95 14 2.95 13.1 L2.95 7 L1.1 7 Q-0.3 7 0.3 5.4 C1.5 3.6 4.2 1 5.25 0 Z" fill="#e8402c"/></svg><i>10.71</i></td><td class="bl"><b>8.43</b><svg class="ar" viewBox="0 0 10.5 14"><path d="M5.25 0 C6.3 1 9 3.6 10.2 5.4 Q10.8 7 9.4 7 L7.55 7 L7.55 13.1 Q7.55 14 6.65 14 L3.85 14 Q2.95 14 2.95 13.1 L2.95 7 L1.1 7 Q-0.3 7 0.3 5.4 C1.5 3.6 4.2 1 5.25 0 Z" fill="#e8402c"/></svg><i>8.32</i></td><td class="bl"><b>0.57</b><svg class="ar" viewBox="0 0 10.5 14"><path d="M5.25 14 C6.3 13 9 10.4 10.2 8.6 Q10.8 7 9.4 7 L7.55 7 L7.55 0.9 Q7.55 0 6.65 0 L3.85 0 Q2.95 0 2.95 0.9 L2.95 7 L1.1 7 Q-0.3 7 0.3 8.6 C1.5 10.4 4.2 13 5.25 14 Z" fill="#2fa32f"/></svg><i>0.14</i></td><td class="bl"><b>11.55</b><svg class="ar" viewBox="0 0 10.5 14"><path d="M5.25 14 C6.3 13 9 10.4 10.2 8.6 Q10.8 7 9.4 7 L7.55 7 L7.55 0.9 Q7.55 0 6.65 0 L3.85 0 Q2.95 0 2.95 0.9 L2.95 7 L1.1 7 Q-0.3 7 0.3 8.6 C1.5 10.4 4.2 13 5.25 14 Z" fill="#2fa32f"/></svg><i>2.91</i></td><td class="yl"><b>1.31</b><svg class="ar" viewBox="0 0 10.5 14"><path d="M5.25 0 C6.3 1 9 3.6 10.2 5.4 Q10.8 7 9.4 7 L7.55 7 L7.55 13.1 Q7.55 14 6.65 14 L3.85 14 Q2.95 14 2.95 13.1 L2.95 7 L1.1 7 Q-0.3 7 0.3 5.4 C1.5 3.6 4.2 1 5.25 0 Z" fill="#e8402c"/></svg><i>2.05</i></td><td class="bl"><b>44.57</b><svg class="ar" viewBox="0 0 10.5 14"><path d="M5.25 14 C6.3 13 9 10.4 10.2 8.6 Q10.8 7 9.4 7 L7.55 7 L7.55 0.9 Q7.55 0 6.65 0 L3.85 0 Q2.95 0 2.95 0.9 L2.95 7 L1.1 7 Q-0.3 7 0.3 8.6 C1.5 10.4 4.2 13 5.25 14 Z" fill="#2fa32f"/></svg><i>0.87</i></td><td class="yl"><b>0.88</b><svg class="ar" viewBox="0 0 10.5 14"><path d="M5.25 0 C6.3 1 9 3.6 10.2 5.4 Q10.8 7 9.4 7 L7.55 7 L7.55 13.1 Q7.55 14 6.65 14 L3.85 14 Q2.95 14 2.95 13.1 L2.95 7 L1.1 7 Q-0.3 7 0.3 5.4 C1.5 3.6 4.2 1 5.25 0 Z" fill="#e8402c"/></svg><i>0.93</i></td><td class="bl"><b>5.93</b><svg class="ar" viewBox="0 0 10.5 14"><path d="M5.25 14 C6.3 13 9 10.4 10.2 8.6 Q10.8 7 9.4 7 L7.55 7 L7.55 0.9 Q7.55 0 6.65 0 L3.85 0 Q2.95 0 2.95 0.9 L2.95 7 L1.1 7 Q-0.3 7 0.3 8.6 C1.5 10.4 4.2 13 5.25 14 Z" fill="#2fa32f"/></svg><i>4.63</i></td><td class="yl"><b>2.86</b><svg class="ar" viewBox="0 0 10.5 14"><path d="M5.25 14 C6.3 13 9 10.4 10.2 8.6 Q10.8 7 9.4 7 L7.55 7 L7.55 0.9 Q7.55 0 6.65 0 L3.85 0 Q2.95 0 2.95 0.9 L2.95 7 L1.1 7 Q-0.3 7 0.3 8.6 C1.5 10.4 4.2 13 5.25 14 Z" fill="#2fa32f"/></svg><i>7.38</i></td><td class="yl"><b>-0.71</b><svg class="ar" viewBox="0 0 10.5 14"><path d="M5.25 0 C6.3 1 9 3.6 10.2 5.4 Q10.8 7 9.4 7 L7.55 7 L7.55 13.1 Q7.55 14 6.65 14 L3.85 14 Q2.95 14 2.95 13.1 L2.95 7 L1.1 7 Q-0.3 7 0.3 5.4 C1.5 3.6 4.2 1 5.25 0 Z" fill="#e8402c"/></svg><i>7.17</i></td></tr>
<tr class="gs"><td class="g" rowspan="3">TMT</td><td class="n">传媒(100%)</td><td class="bl"><b>37.46</b><svg class="ar" viewBox="0 0 10.5 14"><path d="M5.25 0 C6.3 1 9 3.6 10.2 5.4 Q10.8 7 9.4 7 L7.55 7 L7.55 13.1 Q7.55 14 6.65 14 L3.85 14 Q2.95 14 2.95 13.1 L2.95 7 L1.1 7 Q-0.3 7 0.3 5.4 C1.5 3.6 4.2 1 5.25 0 Z" fill="#e8402c"/></svg><i>37.39</i></td><td class="yl"><b>7.21</b><svg class="ar" viewBox="0 0 10.5 14"><path d="M5.25 0 C6.3 1 9 3.6 10.2 5.4 Q10.8 7 9.4 7 L7.55 7 L7.55 13.1 Q7.55 14 6.65 14 L3.85 14 Q2.95 14 2.95 13.1 L2.95 7 L1.1 7 Q-0.3 7 0.3 5.4 C1.5 3.6 4.2 1 5.25 0 Z" fill="#e8402c"/></svg><i>8.79</i></td><td class="bl"><b>7.14</b><svg class="ar" viewBox="0 0 10.5 14"><path d="M5.25 0 C6.3 1 9 3.6 10.2 5.4 Q10.8 7 9.4 7 L7.55 7 L7.55 13.1 Q7.55 14 6.65 14 L3.85 14 Q2.95 14 2.95 13.1 L2.95 7 L1.1 7 Q-0.3 7 0.3 5.4 C1.5 3.6 4.2 1 5.25 0 Z" fill="#e8402c"/></svg><i>6.83</i></td><td class="bl"><b>0.50</b><svg class="ar" viewBox="0 0 10.5 14"><path d="M5.25 14 C6.3 13 9 10.4 10.2 8.6 Q10.8 7 9.4 7 L7.55 7 L7.55 0.9 Q7.55 0 6.65 0 L3.85 0 Q2.95 0 2.95 0.9 L2.95 7 L1.1 7 Q-0.3 7 0.3 8.6 C1.5 10.4 4.2 13 5.25 14 Z" fill="#2fa32f"/></svg><i>0.11</i></td><td class="bl"><b>5.84</b><svg class="ar" viewBox="0 0 10.5 14"><path d="M5.25 14 C6.3 13 9 10.4 10.2 8.6 Q10.8 7 9.4 7 L7.55 7 L7.55 0.9 Q7.55 0 6.65 0 L3.85 0 Q2.95 0 2.95 0.9 L2.95 7 L1.1 7 Q-0.3 7 0.3 8.6 C1.5 10.4 4.2 13 5.25 14 Z" fill="#2fa32f"/></svg><i>1.32</i></td><td class="yl"><b>0.04</b><svg class="ar" viewBox="0 0 10.5 14"><path d="M5.25 0 C6.3 1 9 3.6 10.2 5.4 Q10.8 7 9.4 7 L7.55 7 L7.55 13.1 Q7.55 14 6.65 14 L3.85 14 Q2.95 14 2.95 13.1 L2.95 7 L1.1 7 Q-0.3 7 0.3 5.4 C1.5 3.6 4.2 1 5.25 0 Z" fill="#e8402c"/></svg><i>1.25</i></td><td class="bl"><b>12.03</b><svg class="ar" viewBox="0 0 10.5 14"><path d="M5.25 0 C6.3 1 9 3.6 10.2 5.4 Q10.8 7 9.4 7 L7.55 7 L7.55 13.1 Q7.55 14 6.65 14 L3.85 14 Q2.95 14 2.95 13.1 L2.95 7 L1.1 7 Q-0.3 7 0.3 5.4 C1.5 3.6 4.2 1 5.25 0 Z" fill="#e8402c"/></svg><i>10.61</i></td><td class="bl"><b>1.58</b><svg class="ar" viewBox="0 0 10.5 14"><path d="M5.25 14 C6.3 13 9 10.4 10.2 8.6 Q10.8 7 9.4 7 L7.55 7 L7.55 0.9 Q7.55 0 6.65 0 L3.85 0 Q2.95 0 2.95 0.9 L2.95 7 L1.1 7 Q-0.3 7 0.3 8.6 C1.5 10.4 4.2 13 5.25 14 Z" fill="#2fa32f"/></svg><i>1.58</i></td><td class="bl"><b>5.46</b><svg class="ar" viewBox="0 0 10.5 14"><path d="M5.25 0 C6.3 1 9 3.6 10.2 5.4 Q10.8 7 9.4 7 L7.55 7 L7.55 13.1 Q7.55 14 6.65 14 L3.85 14 Q2.95 14 2.95 13.1 L2.95 7 L1.1 7 Q-0.3 7 0.3 5.4 C1.5 3.6 4.2 1 5.25 0 Z" fill="#e8402c"/></svg><i>4.90</i></td><td class="bl w"><div class="l1"><b>104.37</b><svg class="ar" viewBox="0 0 10.5 14"><path d="M5.25 14 C6.3 13 9 10.4 10.2 8.6 Q10.8 7 9.4 7 L7.55 7 L7.55 0.9 Q7.55 0 6.65 0 L3.85 0 Q2.95 0 2.95 0.9 L2.95 7 L1.1 7 Q-0.3 7 0.3 8.6 C1.5 10.4 4.2 13 5.25 14 Z" fill="#2fa32f"/></svg></div><div class="l2"><i>-29.06</i></div></td><td class="bl w"><div class="l1"><b>102.17</b><svg class="ar" viewBox="0 0 10.5 14"><path d="M5.25 14 C6.3 13 9 10.4 10.2 8.6 Q10.8 7 9.4 7 L7.55 7 L7.55 0.9 Q7.55 0 6.65 0 L3.85 0 Q2.95 0 2.95 0.9 L2.95 7 L1.1 7 Q-0.3 7 0.3 8.6 C1.5 10.4 4.2 13 5.25 14 Z" fill="#2fa32f"/></svg></div><div class="l2"><i>-28.59</i></div></td></tr>
<tr><td class="n">电子(99%)</td><td class="bl"><b>45.34</b><svg class="ar" viewBox="0 0 10.5 14"><path d="M5.25 0 C6.3 1 9 3.6 10.2 5.4 Q10.8 7 9.4 7 L7.55 7 L7.55 13.1 Q7.55 14 6.65 14 L3.85 14 Q2.95 14 2.95 13.1 L2.95 7 L1.1 7 Q-0.3 7 0.3 5.4 C1.5 3.6 4.2 1 5.25 0 Z" fill="#e8402c"/></svg><i>45.28</i></td><td class="yl"><b>3.86</b><svg class="ar" viewBox="0 0 10.5 14"><path d="M5.25 0 C6.3 1 9 3.6 10.2 5.4 Q10.8 7 9.4 7 L7.55 7 L7.55 13.1 Q7.55 14 6.65 14 L3.85 14 Q2.95 14 2.95 13.1 L2.95 7 L1.1 7 Q-0.3 7 0.3 5.4 C1.5 3.6 4.2 1 5.25 0 Z" fill="#e8402c"/></svg><i>4.02</i></td><td class="yl"><b>3.32</b><svg class="ar" viewBox="0 0 10.5 14"><path d="M5.25 0 C6.3 1 9 3.6 10.2 5.4 Q10.8 7 9.4 7 L7.55 7 L7.55 13.1 Q7.55 14 6.65 14 L3.85 14 Q2.95 14 2.95 13.1 L2.95 7 L1.1 7 Q-0.3 7 0.3 5.4 C1.5 3.6 4.2 1 5.25 0 Z" fill="#e8402c"/></svg><i>3.52</i></td><td class="bl"><b>0.63</b><svg class="ar" viewBox="0 0 10.5 14"><path d="M5.25 14 C6.3 13 9 10.4 10.2 8.6 Q10.8 7 9.4 7 L7.55 7 L7.55 0.9 Q7.55 0 6.65 0 L3.85 0 Q2.95 0 2.95 0.9 L2.95 7 L1.1 7 Q-0.3 7 0.3 8.6 C1.5 10.4 4.2 13 5.25 14 Z" fill="#2fa32f"/></svg><i>0.15</i></td><td class="bl"><b>4.45</b><svg class="ar" viewBox="0 0 10.5 14"><path d="M5.25 14 C6.3 13 9 10.4 10.2 8.6 Q10.8 7 9.4 7 L7.55 7 L7.55 0.9 Q7.55 0 6.65 0 L3.85 0 Q2.95 0 2.95 0.9 L2.95 7 L1.1 7 Q-0.3 7 0.3 8.6 C1.5 10.4 4.2 13 5.25 14 Z" fill="#2fa32f"/></svg><i>1.09</i></td><td class="yl"><b>0.73</b><svg class="ar" viewBox="0 0 10.5 14"><path d="M5.25 0 C6.3 1 9 3.6 10.2 5.4 Q10.8 7 9.4 7 L7.55 7 L7.55 13.1 Q7.55 14 6.65 14 L3.85 14 Q2.95 14 2.95 13.1 L2.95 7 L1.1 7 Q-0.3 7 0.3 5.4 C1.5 3.6 4.2 1 5.25 0 Z" fill="#e8402c"/></svg><i>1.17</i></td><td class="yl"><b>63.01</b><svg class="ar" viewBox="0 0 10.5 14"><path d="M5.25 14 C6.3 13 9 10.4 10.2 8.6 Q10.8 7 9.4 7 L7.55 7 L7.55 0.9 Q7.55 0 6.65 0 L3.85 0 Q2.95 0 2.95 0.9 L2.95 7 L1.1 7 Q-0.3 7 0.3 8.6 C1.5 10.4 4.2 13 5.25 14 Z" fill="#2fa32f"/></svg><i>127.01</i></td><td class="yl"><b>1.32</b><svg class="ar" viewBox="0 0 10.5 14"><path d="M5.25 0 C6.3 1 9 3.6 10.2 5.4 Q10.8 7 9.4 7 L7.55 7 L7.55 13.1 Q7.55 14 6.65 14 L3.85 14 Q2.95 14 2.95 13.1 L2.95 7 L1.1 7 Q-0.3 7 0.3 5.4 C1.5 3.6 4.2 1 5.25 0 Z" fill="#e8402c"/></svg><i>1.34</i></td><td class="yl"><b>5.65</b><svg class="ar" viewBox="0 0 10.5 14"><path d="M5.25 14 C6.3 13 9 10.4 10.2 8.6 Q10.8 7 9.4 7 L7.55 7 L7.55 0.9 Q7.55 0 6.65 0 L3.85 0 Q2.95 0 2.95 0.9 L2.95 7 L1.1 7 Q-0.3 7 0.3 8.6 C1.5 10.4 4.2 13 5.25 14 Z" fill="#2fa32f"/></svg><i>15.50</i></td><td class="yl"><b>-28.12</b><svg class="ar" viewBox="0 0 10.5 14"><path d="M5.25 0 C6.3 1 9 3.6 10.2 5.4 Q10.8 7 9.4 7 L7.55 7 L7.55 13.1 Q7.55 14 6.65 14 L3.85 14 Q2.95 14 2.95 13.1 L2.95 7 L1.1 7 Q-0.3 7 0.3 5.4 C1.5 3.6 4.2 1 5.25 0 Z" fill="#e8402c"/></svg><i>52.01</i></td><td class="yl"><b>-26.29</b><svg class="ar" viewBox="0 0 10.5 14"><path d="M5.25 0 C6.3 1 9 3.6 10.2 5.4 Q10.8 7 9.4 7 L7.55 7 L7.55 13.1 Q7.55 14 6.65 14 L3.85 14 Q2.95 14 2.95 13.1 L2.95 7 L1.1 7 Q-0.3 7 0.3 5.4 C1.5 3.6 4.2 1 5.25 0 Z" fill="#e8402c"/></svg><i>54.24</i></td></tr>
<tr><td class="n">计算机(99%)</td><td class="bl"><b>41.99</b><svg class="ar" viewBox="0 0 10.5 14"><path d="M5.25 14 C6.3 13 9 10.4 10.2 8.6 Q10.8 7 9.4 7 L7.55 7 L7.55 0.9 Q7.55 0 6.65 0 L3.85 0 Q2.95 0 2.95 0.9 L2.95 7 L1.1 7 Q-0.3 7 0.3 8.6 C1.5 10.4 4.2 13 5.25 14 Z" fill="#2fa32f"/></svg><i>40.60</i></td><td class="bl"><b>3.13</b><svg class="ar" viewBox="0 0 10.5 14"><path d="M5.25 14 C6.3 13 9 10.4 10.2 8.6 Q10.8 7 9.4 7 L7.55 7 L7.55 0.9 Q7.55 0 6.65 0 L3.85 0 Q2.95 0 2.95 0.9 L2.95 7 L1.1 7 Q-0.3 7 0.3 8.6 C1.5 10.4 4.2 13 5.25 14 Z" fill="#2fa32f"/></svg><i>0.45</i></td><td class="bl"><b>2.82</b><svg class="ar" viewBox="0 0 10.5 14"><path d="M5.25 14 C6.3 13 9 10.4 10.2 8.6 Q10.8 7 9.4 7 L7.55 7 L7.55 0.9 Q7.55 0 6.65 0 L3.85 0 Q2.95 0 2.95 0.9 L2.95 7 L1.1 7 Q-0.3 7 0.3 8.6 C1.5 10.4 4.2 13 5.25 14 Z" fill="#2fa32f"/></svg><i>0.07</i></td><td class="bl"><b>0.64</b><svg class="ar" viewBox="0 0 10.5 14"><path d="M5.25 14 C6.3 13 9 10.4 10.2 8.6 Q10.8 7 9.4 7 L7.55 7 L7.55 0.9 Q7.55 0 6.65 0 L3.85 0 Q2.95 0 2.95 0.9 L2.95 7 L1.1 7 Q-0.3 7 0.3 8.6 C1.5 10.4 4.2 13 5.25 14 Z" fill="#2fa32f"/></svg><i>0.13</i></td><td class="bl"><b>3.66</b><svg class="ar" viewBox="0 0 10.5 14"><path d="M5.25 14 C6.3 13 9 10.4 10.2 8.6 Q10.8 7 9.4 7 L7.55 7 L7.55 0.9 Q7.55 0 6.65 0 L3.85 0 Q2.95 0 2.95 0.9 L2.95 7 L1.1 7 Q-0.3 7 0.3 8.6 C1.5 10.4 4.2 13 5.25 14 Z" fill="#2fa32f"/></svg><i>0.73</i></td><td class="bl"><b>0.79</b><svg class="ar" viewBox="0 0 10.5 14"><path d="M5.25 14 C6.3 13 9 10.4 10.2 8.6 Q10.8 7 9.4 7 L7.55 7 L7.55 0.9 Q7.55 0 6.65 0 L3.85 0 Q2.95 0 2.95 0.9 L2.95 7 L1.1 7 Q-0.3 7 0.3 8.6 C1.5 10.4 4.2 13 5.25 14 Z" fill="#2fa32f"/></svg><i>0.01</i></td><td class="bl"><b>21.70</b><svg class="ar" viewBox="0 0 10.5 14"><path d="M5.25 14 C6.3 13 9 10.4 10.2 8.6 Q10.8 7 9.4 7 L7.55 7 L7.55 0.9 Q7.55 0 6.65 0 L3.85 0 Q2.95 0 2.95 0.9 L2.95 7 L1.1 7 Q-0.3 7 0.3 8.6 C1.5 10.4 4.2 13 5.25 14 Z" fill="#2fa32f"/></svg><i>-8.68</i></td><td class="yl"><b>1.67</b><svg class="ar" viewBox="0 0 10.5 14"><path d="M5.25 0 C6.3 1 9 3.6 10.2 5.4 Q10.8 7 9.4 7 L7.55 7 L7.55 13.1 Q7.55 14 6.65 14 L3.85 14 Q2.95 14 2.95 13.1 L2.95 7 L1.1 7 Q-0.3 7 0.3 5.4 C1.5 3.6 4.2 1 5.25 0 Z" fill="#e8402c"/></svg><i>1.69</i></td><td class="yl"><b>3.64</b><svg class="ar" viewBox="0 0 10.5 14"><path d="M5.25 0 C6.3 1 9 3.6 10.2 5.4 Q10.8 7 9.4 7 L7.55 7 L7.55 13.1 Q7.55 14 6.65 14 L3.85 14 Q2.95 14 2.95 13.1 L2.95 7 L1.1 7 Q-0.3 7 0.3 5.4 C1.5 3.6 4.2 1 5.25 0 Z" fill="#e8402c"/></svg><i>5.00</i></td><td class="bl"><b>-43.00</b><svg class="ar" viewBox="0 0 10.5 14"><path d="M5.25 0 C6.3 1 9 3.6 10.2 5.4 Q10.8 7 9.4 7 L7.55 7 L7.55 13.1 Q7.55 14 6.65 14 L3.85 14 Q2.95 14 2.95 13.1 L2.95 7 L1.1 7 Q-0.3 7 0.3 5.4 C1.5 3.6 4.2 1 5.25 0 Z" fill="#e8402c"/></svg><i>-96.72</i></td><td class="bl w"><div class="l1"><b>-30.85</b><svg class="ar" viewBox="0 0 10.5 14"><path d="M5.25 0 C6.3 1 9 3.6 10.2 5.4 Q10.8 7 9.4 7 L7.55 7 L7.55 13.1 Q7.55 14 6.65 14 L3.85 14 Q2.95 14 2.95 13.1 L2.95 7 L1.1 7 Q-0.3 7 0.3 5.4 C1.5 3.6 4.2 1 5.25 0 Z" fill="#e8402c"/></svg></div><div class="l2"><i>-97.45</i></div></td></tr>
</tbody></table>
<div class="foot"><div class="pill">注：<svg class="ar" viewBox="0 0 10.5 14"><path d="M5.25 0 C6.3 1 9 3.6 10.2 5.4 Q10.8 7 9.4 7 L7.55 7 L7.55 13.1 Q7.55 14 6.65 14 L3.85 14 Q2.95 14 2.95 13.1 L2.95 7 L1.1 7 Q-0.3 7 0.3 5.4 C1.5 3.6 4.2 1 5.25 0 Z" fill="#e8402c"/></svg><svg class="ar" viewBox="0 0 10.5 14"><path d="M5.25 14 C6.3 13 9 10.4 10.2 8.6 Q10.8 7 9.4 7 L7.55 7 L7.55 0.9 Q7.55 0 6.65 0 L3.85 0 Q2.95 0 2.95 0.9 L2.95 7 L1.1 7 Q-0.3 7 0.3 8.6 C1.5 10.4 4.2 13 5.25 14 Z" fill="#2fa32f"/></svg><svg class="ar rt" viewBox="0 0 14 10"><path d="M0.5 3.8 L8 3.8 L8 1 L13.6 5 L8 9 L8 6.2 L0.5 6.2 Z" fill="#ffffff"/></svg><span class="pt">为同比数据变动方向，</span><span class="sq sy"></span><span class="pt">指标好转或持平，</span><span class="sq sb"></span><span class="pt">指标恶化</span></div><div class="src">更新至：2024-08-12，数据来源：同花顺iFinD金融数据终端</div></div>
<div class="next"><span class="bar"></span>行业财务表</div>
</div>
</body></html>
